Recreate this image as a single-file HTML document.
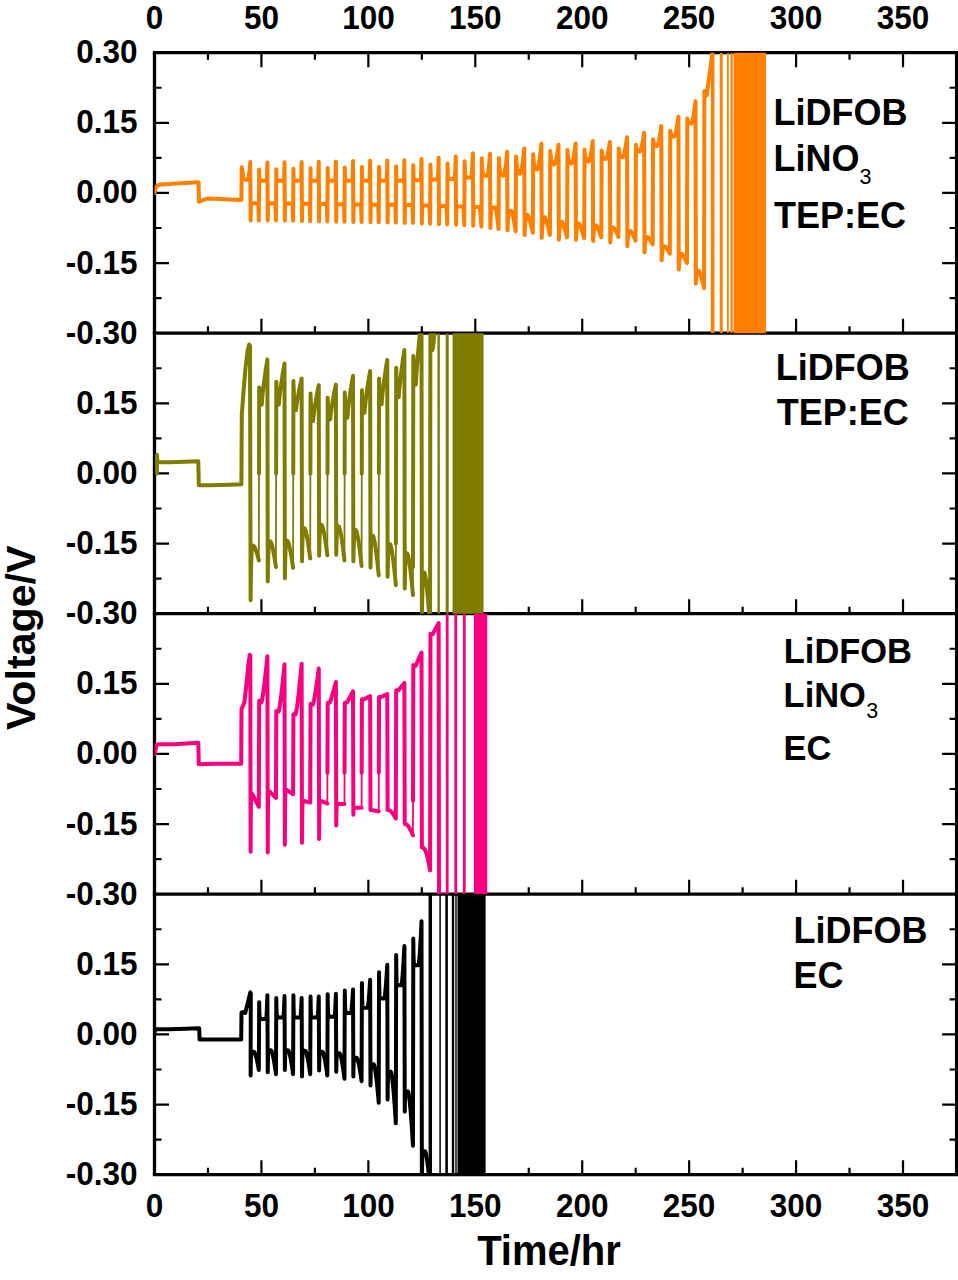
<!DOCTYPE html>
<html><head><meta charset="utf-8"><style>html,body{margin:0;padding:0;background:#fff;}svg{display:block;}</style></head>
<body><svg width="958" height="1280" viewBox="0 0 958 1280">
<rect width="958" height="1280" fill="#fff"/>
<path d="M154.5 52.7V1174.7M956.6 52.7V1174.7" stroke="#000" stroke-width="3.3" fill="none"/><path d="M152.85 52.7H958.25" stroke="#000" stroke-width="3.3" fill="none"/><path d="M152.85 333.2H958.25" stroke="#000" stroke-width="3.3" fill="none"/><path d="M152.85 613.7H958.25" stroke="#000" stroke-width="3.3" fill="none"/><path d="M152.85 894.2H958.25" stroke="#000" stroke-width="3.3" fill="none"/><path d="M152.85 1174.7H958.25" stroke="#000" stroke-width="3.3" fill="none"/><path d="M207.97 52.7v7.0M207.97 333.2v-7.0M207.97 613.7v-7.0M207.97 894.2v-7.0M207.97 1174.7v-7.0M261.43 52.7v14.5M261.43 333.2v-14.5M261.43 613.7v-14.5M261.43 894.2v-14.5M261.43 1174.7v-14.5M314.89 52.7v7.0M314.89 333.2v-7.0M314.89 613.7v-7.0M314.89 894.2v-7.0M314.89 1174.7v-7.0M368.36 52.7v14.5M368.36 333.2v-14.5M368.36 613.7v-14.5M368.36 894.2v-14.5M368.36 1174.7v-14.5M421.82 52.7v7.0M421.82 333.2v-7.0M421.82 613.7v-7.0M421.82 894.2v-7.0M421.82 1174.7v-7.0M475.29 52.7v14.5M475.29 333.2v-14.5M475.29 613.7v-14.5M475.29 894.2v-14.5M475.29 1174.7v-14.5M528.75 52.7v7.0M528.75 333.2v-7.0M528.75 613.7v-7.0M528.75 894.2v-7.0M528.75 1174.7v-7.0M582.22 52.7v14.5M582.22 333.2v-14.5M582.22 613.7v-14.5M582.22 894.2v-14.5M582.22 1174.7v-14.5M635.68 52.7v7.0M635.68 333.2v-7.0M635.68 613.7v-7.0M635.68 894.2v-7.0M635.68 1174.7v-7.0M689.15 52.7v14.5M689.15 333.2v-14.5M689.15 613.7v-14.5M689.15 894.2v-14.5M689.15 1174.7v-14.5M742.62 52.7v7.0M742.62 333.2v-7.0M742.62 613.7v-7.0M742.62 894.2v-7.0M742.62 1174.7v-7.0M796.08 52.7v14.5M796.08 333.2v-14.5M796.08 613.7v-14.5M796.08 894.2v-14.5M796.08 1174.7v-14.5M849.54 52.7v7.0M849.54 333.2v-7.0M849.54 613.7v-7.0M849.54 894.2v-7.0M849.54 1174.7v-7.0M903.01 52.7v14.5M903.01 333.2v-14.5M903.01 613.7v-14.5M903.01 894.2v-14.5M903.01 1174.7v-14.5M154.5 87.76h7.0M956.6 87.76h-7.0M154.5 122.83h14.5M956.6 122.83h-14.5M154.5 157.89h7.0M956.6 157.89h-7.0M154.5 192.95h14.5M956.6 192.95h-14.5M154.5 228.01h7.0M956.6 228.01h-7.0M154.5 263.07h14.5M956.6 263.07h-14.5M154.5 298.14h7.0M956.6 298.14h-7.0M154.5 368.26h7.0M956.6 368.26h-7.0M154.5 403.32h14.5M956.6 403.32h-14.5M154.5 438.39h7.0M956.6 438.39h-7.0M154.5 473.45h14.5M956.6 473.45h-14.5M154.5 508.51h7.0M956.6 508.51h-7.0M154.5 543.58h14.5M956.6 543.58h-14.5M154.5 578.64h7.0M956.6 578.64h-7.0M154.5 648.76h7.0M956.6 648.76h-7.0M154.5 683.83h14.5M956.6 683.83h-14.5M154.5 718.89h7.0M956.6 718.89h-7.0M154.5 753.95h14.5M956.6 753.95h-14.5M154.5 789.01h7.0M956.6 789.01h-7.0M154.5 824.08h14.5M956.6 824.08h-14.5M154.5 859.14h7.0M956.6 859.14h-7.0M154.5 929.26h7.0M956.6 929.26h-7.0M154.5 964.33h14.5M956.6 964.33h-14.5M154.5 999.39h7.0M956.6 999.39h-7.0M154.5 1034.45h14.5M956.6 1034.45h-14.5M154.5 1069.51h7.0M956.6 1069.51h-7.0M154.5 1104.58h14.5M956.6 1104.58h-14.5M154.5 1139.64h7.0M956.6 1139.64h-7.0" stroke="#000" stroke-width="2.2" fill="none"/>
<defs><clipPath id="cp0"><rect x="154.5" y="52.7" width="802.1" height="280.5"/></clipPath><clipPath id="cp1"><rect x="154.5" y="333.2" width="802.1" height="280.5"/></clipPath><clipPath id="cp2"><rect x="154.5" y="613.7" width="802.1" height="280.5"/></clipPath><clipPath id="cp3"><rect x="154.5" y="894.2" width="802.1" height="280.5"/></clipPath></defs>
<g clip-path="url(#cp0)"><path d="M154.50 192.95L155.50 188.27L157.50 185.47L160.00 184.53L170.00 184.07L180.00 183.13L190.00 182.66L197.50 182.20L198.60 182.66L199.00 201.83L201.00 200.90L207.40 198.56L220.00 199.03L241.40 199.96L241.70 167.24L242.30 169.57L243.50 179.39L246.20 179.86L248.20 178.92L249.46 171.91L250.26 162.09L250.61 220.53L250.74 211.41L250.86 207.09L250.91 206.21L250.99 205.06L251.11 204.10L251.20 203.75L251.24 203.64L251.36 203.43L251.49 203.33L251.49 203.32L251.79 203.25L252.08 203.24L252.37 203.24L252.67 203.24L252.96 203.24L253.25 203.24L253.55 203.24L253.84 203.24L254.13 203.24L254.43 203.24L254.72 203.24L255.01 203.24L255.31 203.24L255.60 203.24L255.89 203.24L256.19 203.24L256.48 203.23L256.77 203.23L257.07 203.23L257.36 203.23L257.65 203.23L257.95 203.23L258.12 203.23L258.20 203.88L258.24 204.36L258.28 205.05L258.36 206.56L258.44 208.36L258.51 210.40L258.53 210.90L258.59 212.65L258.67 215.10L258.75 217.73L258.82 220.53L259.18 169.57L259.30 175.50L259.43 178.29L259.47 178.86L259.55 179.61L259.68 180.24L259.76 180.46L259.80 180.53L259.93 180.67L260.05 180.74L260.05 180.74L260.35 180.79L260.64 180.79L260.93 180.79L261.23 180.79L261.52 180.79L261.81 180.79L262.11 180.79L262.40 180.79L262.69 180.79L262.99 180.79L263.28 180.79L263.57 180.79L263.87 180.79L264.16 180.79L264.45 180.79L264.75 180.79L265.04 180.79L265.33 180.79L265.63 180.79L265.92 180.79L266.21 180.79L266.51 180.79L266.69 180.79L266.77 180.12L266.80 179.61L266.84 178.89L266.92 177.29L267.00 175.39L267.08 173.25L267.09 172.72L267.15 170.87L267.23 168.29L267.31 165.52L267.39 162.56L267.74 220.53L267.86 211.41L267.99 207.09L268.03 206.21L268.11 205.06L268.24 204.10L268.32 203.75L268.36 203.64L268.49 203.43L268.61 203.33L268.62 203.32L268.91 203.25L269.20 203.24L269.50 203.24L269.79 203.24L270.08 203.24L270.38 203.24L270.67 203.24L270.96 203.24L271.26 203.24L271.55 203.24L271.84 203.24L272.14 203.24L272.43 203.24L272.72 203.24L273.02 203.24L273.31 203.24L273.60 203.23L273.90 203.23L274.19 203.23L274.48 203.23L274.78 203.23L275.07 203.23L275.25 203.23L275.33 203.88L275.36 204.36L275.41 205.05L275.48 206.56L275.56 208.36L275.64 210.40L275.66 210.90L275.72 212.65L275.79 215.10L275.87 217.73L275.95 220.53L276.30 169.17L276.43 175.30L276.55 178.20L276.59 178.79L276.68 179.57L276.80 180.22L276.89 180.45L276.93 180.52L277.05 180.67L277.18 180.73L277.18 180.74L277.47 180.78L277.77 180.79L278.06 180.79L278.35 180.79L278.65 180.79L278.94 180.79L279.23 180.79L279.53 180.79L279.82 180.79L280.11 180.79L280.41 180.79L280.70 180.79L280.99 180.79L281.29 180.79L281.58 180.79L281.87 180.79L282.17 180.79L282.46 180.79L282.75 180.79L283.05 180.79L283.34 180.79L283.63 180.79L283.81 180.79L283.89 180.11L283.93 179.59L283.97 178.85L284.05 177.23L284.12 175.31L284.20 173.12L284.22 172.59L284.28 170.71L284.36 168.09L284.43 165.27L284.51 162.27L284.86 220.82L284.99 211.67L285.11 207.34L285.16 206.46L285.24 205.30L285.36 204.33L285.45 203.98L285.49 203.88L285.61 203.66L285.74 203.56L285.74 203.56L286.04 203.48L286.33 203.47L286.62 203.47L286.92 203.47L287.21 203.47L287.50 203.47L287.80 203.47L288.09 203.47L288.38 203.47L288.68 203.47L288.97 203.47L289.26 203.47L289.56 203.47L289.85 203.47L290.14 203.47L290.44 203.47L290.73 203.47L291.02 203.47L291.32 203.47L291.61 203.47L291.90 203.47L292.20 203.47L292.38 203.47L292.45 204.11L292.49 204.60L292.53 205.29L292.61 206.81L292.69 208.61L292.76 210.66L292.78 211.15L292.84 212.92L292.92 215.37L293.00 218.01L293.07 220.82L293.43 168.76L293.55 175.11L293.68 178.11L293.72 178.72L293.80 179.53L293.93 180.20L294.01 180.44L294.05 180.51L294.18 180.66L294.30 180.73L294.30 180.73L294.60 180.78L294.89 180.79L295.18 180.79L295.48 180.79L295.77 180.79L296.06 180.79L296.36 180.79L296.65 180.79L296.94 180.79L297.24 180.79L297.53 180.79L297.82 180.79L298.12 180.79L298.41 180.79L298.70 180.79L299.00 180.79L299.29 180.79L299.58 180.79L299.88 180.79L300.17 180.79L300.46 180.79L300.76 180.79L300.94 180.79L301.02 180.10L301.05 179.57L301.09 178.82L301.17 177.17L301.25 175.22L301.33 173.00L301.34 172.46L301.40 170.55L301.48 167.89L301.56 165.03L301.64 161.98L301.99 221.12L302.11 211.93L302.24 207.59L302.28 206.70L302.36 205.54L302.49 204.57L302.57 204.22L302.61 204.11L302.74 203.90L302.86 203.79L302.87 203.79L303.16 203.72L303.45 203.71L303.75 203.70L304.04 203.70L304.33 203.70L304.63 203.70L304.92 203.70L305.21 203.70L305.51 203.70L305.80 203.70L306.09 203.70L306.39 203.70L306.68 203.70L306.97 203.70L307.27 203.70L307.56 203.70L307.85 203.70L308.15 203.70L308.44 203.70L308.73 203.70L309.03 203.70L309.32 203.70L309.50 203.70L309.58 204.35L309.61 204.84L309.66 205.53L309.73 207.05L309.81 208.86L309.89 210.91L309.91 211.41L309.97 213.18L310.04 215.65L310.12 218.30L310.20 221.12L310.55 168.35L310.68 174.92L310.80 178.02L310.84 178.65L310.93 179.48L311.05 180.18L311.14 180.43L311.18 180.50L311.30 180.66L311.43 180.73L311.43 180.73L311.72 180.78L312.02 180.79L312.31 180.79L312.60 180.79L312.90 180.79L313.19 180.79L313.48 180.79L313.78 180.79L314.07 180.79L314.36 180.79L314.66 180.79L314.95 180.79L315.24 180.79L315.54 180.79L315.83 180.79L316.12 180.79L316.42 180.79L316.71 180.79L317.00 180.79L317.30 180.79L317.59 180.79L317.88 180.79L318.06 180.79L318.14 180.09L318.18 179.55L318.22 178.79L318.30 177.12L318.37 175.13L318.45 172.88L318.47 172.33L318.53 170.39L318.61 167.69L318.68 164.78L318.76 161.69L319.11 221.41L319.24 212.19L319.36 207.83L319.41 206.94L319.49 205.78L319.61 204.81L319.70 204.45L319.74 204.35L319.86 204.13L319.99 204.03L319.99 204.03L320.29 203.95L320.58 203.94L320.87 203.94L321.17 203.94L321.46 203.94L321.75 203.94L322.05 203.94L322.34 203.94L322.63 203.94L322.93 203.94L323.22 203.94L323.51 203.94L323.81 203.94L324.10 203.94L324.39 203.94L324.69 203.94L324.98 203.94L325.27 203.94L325.57 203.94L325.86 203.94L326.15 203.94L326.45 203.94L326.62 203.94L326.70 204.58L326.74 205.08L326.78 205.77L326.86 207.30L326.94 209.11L327.01 211.17L327.03 211.67L327.09 213.45L327.17 215.92L327.25 218.58L327.32 221.41L327.68 167.94L327.80 174.72L327.93 177.93L327.97 178.58L328.05 179.44L328.18 180.15L328.26 180.41L328.30 180.49L328.43 180.65L328.55 180.73L328.55 180.73L328.85 180.78L329.14 180.79L329.43 180.79L329.73 180.79L330.02 180.79L330.31 180.79L330.61 180.79L330.90 180.79L331.19 180.79L331.49 180.79L331.78 180.79L332.07 180.79L332.37 180.79L332.66 180.79L332.95 180.79L333.25 180.79L333.54 180.79L333.83 180.79L334.13 180.79L334.42 180.79L334.71 180.79L335.01 180.79L335.19 180.79L335.27 180.08L335.30 179.53L335.34 178.76L335.42 177.06L335.50 175.05L335.58 172.76L335.59 172.20L335.65 170.23L335.73 167.49L335.81 164.54L335.89 161.39L336.24 221.70L336.36 212.45L336.49 208.08L336.53 207.19L336.61 206.02L336.74 205.04L336.82 204.69L336.86 204.58L336.99 204.36L337.11 204.26L337.12 204.26L337.41 204.19L337.70 204.17L338.00 204.17L338.29 204.17L338.58 204.17L338.88 204.17L339.17 204.17L339.46 204.17L339.76 204.17L340.05 204.17L340.34 204.17L340.64 204.17L340.93 204.17L341.22 204.17L341.52 204.17L341.81 204.17L342.10 204.17L342.40 204.17L342.69 204.17L342.98 204.17L343.28 204.17L343.57 204.17L343.75 204.17L343.83 204.82L343.86 205.31L343.91 206.01L343.98 207.54L344.06 209.36L344.14 211.43L344.16 211.93L344.22 213.71L344.29 216.20L344.37 218.86L344.45 221.70L344.80 167.53L344.93 174.53L345.05 177.84L345.09 178.51L345.18 179.40L345.30 180.13L345.39 180.40L345.43 180.48L345.55 180.65L345.68 180.73L345.68 180.73L345.97 180.78L346.27 180.79L346.56 180.79L346.85 180.79L347.15 180.79L347.44 180.79L347.73 180.79L348.03 180.79L348.32 180.79L348.61 180.79L348.91 180.79L349.20 180.79L349.49 180.79L349.79 180.79L350.08 180.79L350.37 180.79L350.67 180.79L350.96 180.79L351.25 180.79L351.55 180.79L351.84 180.79L352.13 180.79L352.31 180.79L352.39 180.07L352.43 179.51L352.47 178.73L352.55 177.00L352.62 174.96L352.70 172.64L352.72 172.07L352.78 170.08L352.86 167.29L352.93 164.29L353.01 161.10L353.36 221.99L353.49 212.71L353.61 208.33L353.66 207.43L353.74 206.26L353.86 205.28L353.95 204.92L353.99 204.82L354.11 204.60L354.24 204.50L354.24 204.49L354.54 204.42L354.83 204.41L355.12 204.40L355.42 204.40L355.71 204.40L356.00 204.40L356.30 204.40L356.59 204.40L356.88 204.40L357.18 204.40L357.47 204.40L357.76 204.40L358.06 204.40L358.35 204.40L358.64 204.40L358.94 204.40L359.23 204.40L359.52 204.40L359.82 204.40L360.11 204.40L360.40 204.40L360.70 204.40L360.88 204.40L360.95 205.06L360.99 205.55L361.03 206.25L361.11 207.79L361.19 209.62L361.26 211.69L361.28 212.19L361.34 213.98L361.42 216.47L361.50 219.14L361.57 221.99L361.93 167.12L362.05 174.34L362.18 177.74L362.22 178.44L362.30 179.35L362.43 180.11L362.51 180.39L362.55 180.47L362.68 180.64L362.80 180.72L362.80 180.73L363.10 180.78L363.39 180.79L363.68 180.79L363.98 180.79L364.27 180.79L364.56 180.79L364.86 180.79L365.15 180.79L365.44 180.79L365.74 180.79L366.03 180.79L366.32 180.79L366.62 180.79L366.91 180.79L367.20 180.79L367.50 180.79L367.79 180.79L368.08 180.79L368.38 180.79L368.67 180.79L368.96 180.79L369.26 180.79L369.44 180.79L369.52 180.05L369.55 179.49L369.59 178.70L369.67 176.95L369.75 174.87L369.83 172.52L369.84 171.94L369.90 169.92L369.98 167.09L370.06 164.05L370.14 160.81L370.49 222.29L370.61 212.97L370.74 208.58L370.78 207.67L370.86 206.50L370.99 205.52L371.07 205.16L371.11 205.05L371.24 204.83L371.36 204.73L371.37 204.73L371.66 204.65L371.95 204.64L372.25 204.64L372.54 204.64L372.83 204.64L373.13 204.64L373.42 204.64L373.71 204.64L374.01 204.64L374.30 204.64L374.59 204.64L374.89 204.64L375.18 204.64L375.47 204.64L375.77 204.64L376.06 204.64L376.35 204.64L376.65 204.64L376.94 204.64L377.23 204.64L377.53 204.64L377.82 204.64L378.00 204.64L378.08 205.29L378.11 205.79L378.16 206.49L378.23 208.03L378.31 209.87L378.39 211.95L378.41 212.45L378.47 214.24L378.54 216.74L378.62 219.43L378.70 222.29L379.05 166.71L379.18 174.14L379.30 177.65L379.34 178.37L379.43 179.31L379.55 180.09L379.64 180.38L379.68 180.46L379.80 180.64L379.93 180.72L379.93 180.72L380.22 180.78L380.52 180.79L380.81 180.79L381.10 180.79L381.40 180.79L381.69 180.79L381.98 180.79L382.28 180.79L382.57 180.79L382.86 180.79L383.16 180.79L383.45 180.79L383.74 180.79L384.04 180.79L384.33 180.79L384.62 180.79L384.92 180.79L385.21 180.79L385.50 180.79L385.80 180.79L386.09 180.79L386.38 180.79L386.56 180.79L386.64 180.04L386.68 179.47L386.72 178.67L386.80 176.89L386.87 174.79L386.95 172.40L386.97 171.81L387.03 169.76L387.11 166.89L387.18 163.80L387.26 160.52L387.61 222.58L387.74 213.24L387.86 208.82L387.91 207.92L387.99 206.74L388.11 205.75L388.20 205.40L388.24 205.29L388.36 205.07L388.49 204.96L388.49 204.96L388.79 204.89L389.08 204.87L389.37 204.87L389.67 204.87L389.96 204.87L390.25 204.87L390.55 204.87L390.84 204.87L391.13 204.87L391.43 204.87L391.72 204.87L392.01 204.87L392.31 204.87L392.60 204.87L392.89 204.87L393.19 204.87L393.48 204.87L393.77 204.87L394.07 204.87L394.36 204.87L394.65 204.87L394.95 204.87L395.12 204.87L395.20 205.53L395.24 206.03L395.28 206.73L395.36 208.28L395.44 210.12L395.51 212.20L395.53 212.71L395.59 214.51L395.67 217.02L395.75 219.71L395.82 222.58L396.18 166.30L396.30 173.95L396.43 177.56L396.47 178.30L396.55 179.27L396.68 180.07L396.76 180.37L396.80 180.45L396.93 180.63L397.05 180.72L397.05 180.72L397.35 180.78L397.64 180.79L397.93 180.79L398.23 180.79L398.52 180.79L398.81 180.79L399.11 180.79L399.40 180.79L399.69 180.79L399.99 180.79L400.28 180.79L400.57 180.79L400.87 180.79L401.16 180.79L401.45 180.79L401.75 180.79L402.04 180.79L402.33 180.79L402.63 180.79L402.92 180.79L403.21 180.79L403.51 180.79L403.69 180.79L403.77 180.03L403.80 179.45L403.84 178.64L403.92 176.84L404.00 174.70L404.08 172.28L404.09 171.69L404.15 169.60L404.23 166.69L404.31 163.56L404.39 160.23L404.74 222.87L404.86 213.50L404.99 209.07L405.03 208.16L405.11 206.98L405.24 205.99L405.32 205.63L405.36 205.52L405.49 205.30L405.61 205.20L405.62 205.20L405.91 205.12L406.20 205.11L406.50 205.11L406.79 205.11L407.08 205.11L407.38 205.11L407.67 205.11L407.96 205.11L408.26 205.11L408.55 205.11L408.84 205.11L409.14 205.11L409.43 205.11L409.72 205.11L410.02 205.11L410.31 205.11L410.60 205.10L410.90 205.10L411.19 205.10L411.48 205.10L411.78 205.10L412.07 205.10L412.25 205.10L412.33 205.76L412.36 206.26L412.41 206.97L412.48 208.52L412.56 210.37L412.64 212.46L412.66 212.97L412.72 214.78L412.79 217.29L412.87 219.99L412.95 222.87L413.30 165.37L413.45 173.18L413.59 176.87L413.59 176.90L413.74 178.61L413.88 179.43L413.89 179.45L414.03 179.82L414.18 180.01L414.18 180.01L414.32 180.09L414.47 180.14L414.77 180.16L415.06 180.17L415.35 180.17L415.65 180.17L415.94 180.17L416.23 180.17L416.53 180.17L416.82 180.17L417.11 180.17L417.41 180.17L417.70 180.17L417.99 180.17L418.29 180.17L418.58 180.17L418.87 180.17L419.17 180.17L419.46 180.17L419.75 180.17L420.05 180.17L420.34 180.17L420.63 180.17L420.68 180.17L420.77 179.40L420.87 177.98L420.93 176.85L420.96 176.14L421.05 173.94L421.14 171.45L421.22 169.20L421.24 168.68L421.33 165.67L421.42 162.43L421.51 158.98L421.86 223.49L422.00 214.04L422.14 209.57L422.16 209.33L422.29 207.46L422.43 206.46L422.45 206.36L422.57 205.99L422.71 205.77L422.74 205.74L422.85 205.67L423.04 205.61L423.33 205.58L423.62 205.57L423.92 205.57L424.21 205.57L424.50 205.57L424.80 205.57L425.09 205.57L425.38 205.57L425.68 205.57L425.97 205.57L426.26 205.57L426.56 205.57L426.85 205.57L427.14 205.57L427.44 205.57L427.73 205.57L428.02 205.57L428.32 205.57L428.61 205.57L428.90 205.57L429.20 205.57L429.21 205.57L429.31 206.25L429.41 207.49L429.49 208.84L429.50 209.08L429.60 210.96L429.69 213.09L429.78 215.27L429.79 215.44L429.88 217.99L429.98 220.73L430.07 223.65L430.43 164.43L430.59 172.41L430.72 175.51L430.76 176.18L430.93 177.96L431.01 178.47L431.09 178.80L431.26 179.19L431.30 179.26L431.43 179.38L431.59 179.47L431.60 179.47L431.89 179.53L432.18 179.54L432.48 179.55L432.77 179.55L433.06 179.55L433.36 179.55L433.65 179.55L433.94 179.55L434.24 179.55L434.53 179.55L434.82 179.55L435.12 179.55L435.41 179.55L435.70 179.55L436.00 179.55L436.29 179.55L436.58 179.55L436.88 179.55L437.17 179.55L437.46 179.55L437.68 179.55L437.76 179.05L437.78 178.78L437.89 177.33L438.00 175.44L438.05 174.36L438.10 173.19L438.21 170.62L438.32 167.77L438.34 167.01L438.42 164.66L438.53 161.31L438.64 157.73L438.99 224.12L439.14 214.58L439.28 210.48L439.30 210.07L439.46 207.95L439.57 207.13L439.61 206.94L439.77 206.47L439.87 206.31L439.93 206.24L440.08 206.13L440.16 206.11L440.45 206.06L440.75 206.04L441.04 206.04L441.33 206.04L441.63 206.04L441.92 206.04L442.21 206.04L442.51 206.04L442.80 206.04L443.09 206.04L443.39 206.04L443.68 206.04L443.97 206.04L444.27 206.04L444.56 206.04L444.85 206.04L445.15 206.04L445.44 206.04L445.73 206.04L446.03 206.04L446.18 206.04L446.29 206.74L446.32 207.00L446.41 208.01L446.52 209.63L446.61 211.19L446.63 211.55L446.75 213.71L446.86 216.10L446.91 217.15L446.97 218.70L447.09 221.47L447.20 224.43L447.55 163.50L447.74 171.64L447.84 174.15L447.93 175.48L448.11 177.30L448.14 177.45L448.30 178.16L448.43 178.47L448.49 178.56L448.68 178.75L448.72 178.78L448.86 178.84L449.02 178.88L449.31 178.91L449.60 178.92L449.90 178.92L450.19 178.92L450.48 178.92L450.78 178.92L451.07 178.92L451.36 178.92L451.66 178.92L451.95 178.92L452.24 178.92L452.54 178.92L452.83 178.92L453.12 178.92L453.42 178.92L453.71 178.92L454.00 178.92L454.30 178.92L454.59 178.92L454.67 178.92L454.79 178.15L454.88 177.12L454.91 176.68L455.04 174.75L455.16 172.44L455.18 172.04L455.28 169.80L455.40 166.86L455.47 165.03L455.52 163.65L455.64 160.19L455.76 156.49L456.11 224.74L456.29 215.12L456.41 211.60L456.46 210.58L456.63 208.43L456.70 207.93L456.80 207.42L456.98 206.94L456.99 206.91L457.15 206.71L457.29 206.62L457.32 206.60L457.58 206.54L457.87 206.52L458.17 206.51L458.46 206.51L458.75 206.51L459.05 206.51L459.34 206.51L459.63 206.51L459.93 206.51L460.22 206.51L460.51 206.51L460.81 206.51L461.10 206.51L461.39 206.51L461.69 206.51L461.98 206.51L462.27 206.51L462.57 206.51L462.86 206.51L463.14 206.51L463.15 206.52L463.28 207.23L463.41 208.53L463.45 208.97L463.54 210.19L463.67 212.14L463.74 213.27L463.80 214.34L463.93 216.77L464.03 218.76L464.06 219.40L464.19 222.22L464.32 225.21L464.68 161.16L464.96 169.79L464.97 170.04L465.24 173.87L465.26 174.10L465.52 175.80L465.55 175.96L465.80 176.71L465.85 176.81L466.08 177.14L466.14 177.19L466.36 177.34L466.43 177.37L466.64 177.44L466.73 177.45L467.02 177.49L467.31 177.51L467.61 177.52L467.90 177.52L468.19 177.52L468.49 177.52L468.78 177.52L469.07 177.52L469.37 177.52L469.66 177.52L469.95 177.52L470.25 177.52L470.54 177.52L470.83 177.52L471.13 177.52L471.21 177.52L471.40 176.76L471.42 176.61L471.58 175.25L471.71 173.88L471.77 173.21L471.96 170.74L472.01 170.00L472.14 167.89L472.30 165.19L472.33 164.69L472.52 161.16L472.59 159.57L472.70 157.33L472.89 153.21L473.24 225.67L473.48 215.81L473.53 214.56L473.73 211.15L473.82 210.05L473.97 208.95L474.12 208.22L474.21 207.91L474.41 207.48L474.46 207.41L474.70 207.18L474.70 207.18L474.94 207.07L475.00 207.06L475.29 207.01L475.58 206.99L475.88 206.98L476.17 206.98L476.46 206.98L476.76 206.98L477.05 206.98L477.34 206.98L477.64 206.98L477.93 206.98L478.22 206.98L478.52 206.98L478.81 206.98L479.10 206.98L479.40 206.98L479.55 206.98L479.69 207.42L479.76 207.79L479.97 209.19L479.98 209.28L480.18 210.97L480.28 211.85L480.39 213.03L480.57 214.94L480.61 215.35L480.82 217.88L480.86 218.47L481.03 220.61L481.16 222.37L481.24 223.53L481.45 226.61L481.80 158.35L482.09 165.19L482.24 167.48L482.39 169.32L482.68 171.79L482.68 171.83L482.97 173.34L483.11 173.83L483.27 174.25L483.55 174.79L483.56 174.81L483.85 175.14L483.99 175.25L484.15 175.34L484.43 175.46L484.44 175.47L484.73 175.54L484.86 175.56L485.03 175.58L485.32 175.61L485.61 175.63L485.91 175.64L486.20 175.64L486.49 175.65L486.79 175.65L487.08 175.65L487.36 175.65L487.37 175.65L487.66 175.07L487.67 175.04L487.95 173.82L487.96 173.77L488.25 172.07L488.25 172.02L488.54 169.89L488.55 169.84L488.83 167.32L488.84 167.28L489.13 164.40L489.13 164.36L489.42 161.14L489.43 161.11L489.72 157.56L489.72 157.55L490.01 153.68L490.36 228.01L490.66 218.65L490.73 217.16L490.95 213.55L491.09 212.03L491.24 210.77L491.45 209.61L491.54 209.26L491.81 208.47L491.83 208.43L492.12 207.98L492.18 207.93L492.42 207.74L492.54 207.67L492.71 207.60L492.90 207.55L493.00 207.53L493.30 207.49L493.59 207.47L493.88 207.46L494.18 207.45L494.47 207.45L494.76 207.44L495.06 207.44L495.35 207.44L495.47 207.44L495.64 207.80L495.82 208.43L495.94 208.93L496.16 210.06L496.23 210.41L496.51 212.06L496.52 212.15L496.82 214.09L496.85 214.35L497.11 216.21L497.20 216.89L497.40 218.49L497.54 219.63L497.70 220.92L497.89 222.57L497.99 223.47L498.23 225.68L498.28 226.15L498.57 228.95L498.93 157.89L499.22 163.39L499.51 167.18L499.52 167.26L499.80 169.81L500.10 171.62L500.11 171.69L500.39 172.87L500.68 173.73L500.71 173.78L500.98 174.32L501.27 174.74L501.30 174.77L501.56 175.02L501.86 175.22L501.89 175.23L502.15 175.35L502.44 175.44L502.49 175.46L502.74 175.51L503.03 175.55L503.08 175.56L503.32 175.58L503.51 175.60L503.62 175.55L503.91 175.09L503.92 175.08L504.20 174.26L504.32 173.85L504.50 173.12L504.72 172.06L504.79 171.69L505.08 170.00L505.12 169.76L505.38 168.07L505.53 167.00L505.67 165.90L505.93 163.80L505.96 163.50L506.26 160.89L506.33 160.20L506.55 158.07L506.73 156.19L506.84 155.04L507.14 151.81L507.49 230.35L507.78 223.15L507.97 219.99L508.07 218.59L508.37 215.70L508.45 215.10L508.66 213.87L508.93 212.78L508.95 212.71L509.25 211.98L509.41 211.69L509.54 211.52L509.83 211.22L509.89 211.18L510.13 211.04L510.38 210.93L510.42 210.92L510.71 210.84L510.86 210.82L511.01 210.80L511.30 210.77L511.40 210.76L511.59 211.06L511.88 211.80L511.89 211.82L512.18 212.78L512.36 213.43L512.47 213.88L512.77 215.10L512.83 215.39L513.06 216.41L513.31 217.60L513.35 217.81L513.65 219.28L513.79 220.02L513.94 220.82L514.23 222.43L514.27 222.61L514.53 224.09L514.74 225.37L514.82 225.82L515.11 227.59L515.22 228.26L515.41 229.41L515.70 231.29L516.05 156.48L516.34 161.00L516.64 164.37L516.80 165.86L516.93 166.88L517.22 168.75L517.52 170.15L517.55 170.29L517.81 171.19L518.10 171.97L518.30 172.38L518.40 172.55L518.69 172.98L518.98 173.30L519.05 173.37L519.28 173.54L519.57 173.72L519.66 173.77L519.80 173.79L519.86 173.77L520.16 173.49L520.17 173.47L520.45 172.96L520.55 172.72L520.68 172.36L520.74 172.19L521.04 171.21L521.20 170.59L521.30 170.15L521.33 170.02L521.62 168.64L521.71 168.21L521.92 167.08L522.21 165.34L522.22 165.29L522.50 163.43L522.73 161.83L522.80 161.35L523.09 159.10L523.24 157.88L523.38 156.69L523.68 154.13L523.75 153.44L523.97 151.41L524.26 148.53L524.61 235.02L524.91 228.57L525.20 224.09L525.21 223.92L525.49 220.99L525.79 218.84L525.81 218.68L526.08 217.35L526.37 216.32L526.41 216.20L526.67 215.60L526.96 215.11L527.01 215.03L527.25 214.76L527.33 214.70L527.55 214.81L527.61 214.89L527.84 215.22L527.94 215.39L528.13 215.79L528.21 215.97L528.43 216.48L528.55 216.79L528.72 217.25L528.81 217.51L529.01 218.10L529.16 218.54L529.31 219.00L529.60 219.96L529.77 220.54L529.89 220.96L530.19 222.00L530.38 222.71L530.48 223.08L530.77 224.18L530.99 225.03L531.07 225.32L531.36 226.49L531.60 227.48L531.65 227.68L531.95 228.90L532.21 230.03L532.24 230.14L532.53 231.40L532.83 232.69L533.18 154.15L533.47 158.19L533.76 161.20L533.93 162.53L534.05 163.45L534.35 165.13L534.64 166.38L534.68 166.50L534.93 167.31L535.23 168.00L535.43 168.37L535.52 168.52L535.81 168.91L536.11 169.20L536.18 169.25L536.40 169.41L536.69 169.57L536.79 169.61L536.93 169.62L536.99 169.60L537.28 169.31L537.30 169.28L537.57 168.76L537.68 168.51L537.81 168.14L537.87 167.97L538.16 166.96L538.32 166.33L538.43 165.88L538.45 165.75L538.75 164.34L538.83 163.91L539.04 162.75L539.33 160.98L539.34 160.92L539.63 159.03L539.85 157.40L539.92 156.91L540.21 154.62L540.37 153.38L540.51 152.17L540.80 149.55L540.88 148.86L541.09 146.78L541.39 143.86L541.74 237.83L542.03 231.23L542.32 226.65L542.34 226.48L542.62 223.48L542.91 221.29L542.94 221.12L543.20 219.76L543.50 218.71L543.54 218.59L543.79 217.98L544.08 217.47L544.14 217.40L544.38 217.12L544.45 217.05L544.67 217.16L544.74 217.23L544.96 217.56L545.06 217.74L545.26 218.13L545.34 218.31L545.55 218.82L545.67 219.13L545.84 219.59L545.94 219.85L546.14 220.44L546.28 220.88L546.43 221.34L546.72 222.30L546.89 222.88L547.02 223.30L547.31 224.34L547.51 225.05L547.60 225.41L547.90 226.52L548.12 227.37L548.19 227.66L548.48 228.83L548.73 229.82L548.78 230.02L549.07 231.24L549.34 232.37L549.36 232.48L549.66 233.74L549.95 235.03L550.30 150.88L550.59 154.44L550.89 157.10L551.05 158.28L551.18 159.08L551.47 160.56L551.77 161.66L551.80 161.77L552.06 162.49L552.35 163.10L552.55 163.42L552.65 163.56L552.94 163.90L553.23 164.15L553.30 164.20L553.53 164.34L553.82 164.48L553.91 164.52L554.05 164.53L554.11 164.52L554.41 164.31L554.42 164.29L554.70 163.89L554.80 163.70L554.93 163.42L554.99 163.29L555.29 162.52L555.45 162.04L555.55 161.69L555.58 161.59L555.87 160.52L555.96 160.18L556.17 159.30L556.46 157.93L556.47 157.89L556.75 156.44L556.98 155.19L557.05 154.81L557.34 153.06L557.49 152.10L557.63 151.17L557.93 149.17L558.00 148.63L558.22 147.04L558.51 144.79L558.86 239.70L559.16 233.96L559.45 229.98L559.46 229.83L559.74 227.23L560.04 225.31L560.06 225.17L560.33 223.99L560.62 223.07L560.66 222.97L560.92 222.44L561.21 222.00L561.26 221.93L561.50 221.69L561.58 221.63L561.80 221.73L561.86 221.79L562.09 222.08L562.19 222.23L562.38 222.58L562.46 222.74L562.68 223.18L562.80 223.45L562.97 223.86L563.06 224.09L563.26 224.60L563.41 224.99L563.56 225.39L563.85 226.23L564.02 226.73L564.14 227.10L564.44 228.01L564.63 228.63L564.73 228.95L565.02 229.92L565.24 230.67L565.32 230.92L565.61 231.94L565.85 232.81L565.90 232.98L566.20 234.05L566.46 235.04L566.49 235.13L566.78 236.24L567.08 237.36L567.43 149.94L567.72 153.51L568.01 156.16L568.18 157.34L568.30 158.15L568.60 159.63L568.89 160.73L568.93 160.84L569.18 161.55L569.48 162.17L569.68 162.49L569.77 162.62L570.06 162.96L570.36 163.22L570.43 163.27L570.65 163.41L570.94 163.55L571.04 163.59L571.18 163.60L571.24 163.58L571.53 163.36L571.55 163.34L571.82 162.94L571.93 162.75L572.06 162.46L572.12 162.32L572.41 161.53L572.57 161.04L572.68 160.69L572.70 160.58L573.00 159.48L573.08 159.14L573.29 158.23L573.58 156.84L573.59 156.79L573.88 155.31L574.10 154.03L574.17 153.64L574.46 151.84L574.62 150.87L574.76 149.92L575.05 147.87L575.13 147.32L575.34 145.69L575.64 143.39L575.99 239.70L576.28 234.53L576.57 230.95L576.59 230.82L576.87 228.47L577.16 226.75L577.19 226.63L577.45 225.56L577.75 224.74L577.79 224.64L578.04 224.16L578.33 223.77L578.39 223.71L578.63 223.49L578.70 223.44L578.92 223.54L578.99 223.60L579.21 223.88L579.31 224.02L579.51 224.35L579.59 224.50L579.80 224.92L579.92 225.18L580.09 225.56L580.19 225.78L580.39 226.26L580.53 226.63L580.68 227.01L580.97 227.80L581.14 228.27L581.27 228.62L581.56 229.48L581.76 230.07L581.85 230.37L582.15 231.28L582.37 231.98L582.44 232.22L582.73 233.18L582.98 234.00L583.03 234.17L583.32 235.17L583.59 236.11L583.61 236.19L583.91 237.24L584.20 238.30L584.55 149.47L584.84 152.68L585.14 155.07L585.30 156.13L585.43 156.86L585.72 158.19L586.02 159.18L586.05 159.28L586.31 159.92L586.60 160.48L586.80 160.76L586.90 160.89L587.19 161.19L587.48 161.42L587.55 161.47L587.78 161.59L588.07 161.72L588.16 161.75L588.30 161.76L588.36 161.74L588.66 161.51L588.67 161.49L588.95 161.06L589.05 160.87L589.18 160.57L589.24 160.43L589.54 159.62L589.70 159.11L589.80 158.75L589.83 158.65L590.12 157.52L590.21 157.16L590.42 156.24L590.71 154.81L590.72 154.77L591.00 153.24L591.23 151.94L591.30 151.54L591.59 149.70L591.74 148.70L591.88 147.73L592.18 145.63L592.25 145.07L592.47 143.41L592.76 141.05L593.11 241.10L593.41 236.08L593.70 232.60L593.71 232.47L593.99 230.19L594.29 228.52L594.31 228.39L594.58 227.36L594.87 226.55L594.91 226.46L595.17 226.00L595.46 225.61L595.51 225.55L595.75 225.34L595.83 225.29L596.05 225.35L596.11 225.40L596.34 225.61L596.44 225.72L596.63 225.98L596.71 226.10L596.93 226.44L597.05 226.65L597.22 226.96L597.31 227.13L597.51 227.52L597.66 227.82L597.81 228.13L598.10 228.78L598.27 229.16L598.39 229.45L598.69 230.15L598.88 230.63L598.98 230.88L599.27 231.62L599.49 232.20L599.57 232.39L599.86 233.18L600.10 233.85L600.15 233.98L600.45 234.80L600.71 235.57L600.74 235.64L601.03 236.50L601.33 237.36L601.68 150.41L601.97 152.67L602.26 154.35L602.43 155.09L602.55 155.61L602.85 156.54L603.14 157.24L603.18 157.31L603.43 157.76L603.73 158.15L603.93 158.35L604.02 158.44L604.31 158.66L604.61 158.82L604.68 158.85L604.90 158.94L605.19 159.03L605.29 159.05L605.43 159.05L605.49 159.03L605.78 158.83L605.80 158.81L606.07 158.46L606.18 158.30L606.31 158.05L606.37 157.93L606.66 157.27L606.82 156.84L606.93 156.55L606.95 156.46L607.25 155.53L607.33 155.24L607.54 154.48L607.83 153.30L607.84 153.27L608.13 152.01L608.35 150.94L608.42 150.61L608.71 149.10L608.87 148.28L609.01 147.48L609.30 145.75L609.38 145.29L609.59 143.92L609.89 141.99L610.24 242.50L610.53 237.77L610.82 234.49L610.84 234.36L611.12 232.21L611.41 230.64L611.44 230.52L611.70 229.54L612.00 228.79L612.04 228.70L612.29 228.26L612.58 227.90L612.64 227.85L612.88 227.65L612.95 227.60L613.17 227.62L613.24 227.65L613.46 227.80L613.56 227.88L613.76 228.08L613.84 228.17L614.05 228.42L614.17 228.58L614.34 228.82L614.44 228.95L614.64 229.25L614.78 229.48L614.93 229.72L615.22 230.22L615.39 230.52L615.52 230.74L615.81 231.29L616.01 231.66L616.10 231.85L616.40 232.43L616.62 232.88L616.69 233.03L616.98 233.64L617.23 234.16L617.28 234.27L617.57 234.91L617.84 235.50L617.86 235.56L618.16 236.22L618.45 236.90L618.80 148.54L619.09 150.80L619.39 152.48L619.55 153.22L619.68 153.74L619.97 154.67L620.27 155.37L620.30 155.44L620.56 155.89L620.85 156.28L621.05 156.48L621.15 156.57L621.44 156.79L621.73 156.95L621.80 156.98L622.03 157.07L622.32 157.16L622.41 157.18L622.55 157.17L622.61 157.15L622.91 156.91L622.92 156.89L623.20 156.47L623.30 156.28L623.43 155.99L623.49 155.86L623.79 155.08L623.95 154.59L624.05 154.24L624.08 154.14L624.37 153.06L624.46 152.72L624.67 151.83L624.96 150.47L624.97 150.42L625.25 148.97L625.48 147.72L625.55 147.34L625.84 145.58L625.99 144.63L626.13 143.70L626.43 141.69L626.50 141.15L626.72 139.56L627.01 137.32L627.36 246.25L627.66 241.37L627.95 237.99L627.96 237.86L628.24 235.64L628.54 234.02L628.56 233.90L628.83 232.89L629.12 232.11L629.16 232.03L629.42 231.57L629.71 231.20L629.76 231.14L630.00 230.94L630.08 230.89L630.30 230.91L630.36 230.95L630.59 231.10L630.69 231.19L630.88 231.39L630.96 231.49L631.18 231.76L631.30 231.92L631.47 232.17L631.56 232.31L631.76 232.63L631.91 232.87L632.06 233.12L632.35 233.64L632.52 233.96L632.64 234.19L632.94 234.76L633.13 235.15L633.23 235.35L633.52 235.96L633.74 236.43L633.82 236.59L634.11 237.23L634.35 237.77L634.40 237.88L634.70 238.55L634.96 239.18L634.99 239.23L635.28 239.93L635.58 240.64L635.93 144.80L636.22 146.58L636.51 147.91L636.68 148.50L636.80 148.90L637.10 149.64L637.39 150.19L637.43 150.25L637.68 150.60L637.98 150.91L638.18 151.07L638.27 151.14L638.56 151.31L638.86 151.44L638.93 151.46L639.15 151.53L639.44 151.60L639.54 151.62L639.68 151.61L639.74 151.59L640.03 151.35L640.05 151.33L640.32 150.93L640.43 150.74L640.56 150.46L640.62 150.33L640.91 149.59L641.07 149.12L641.18 148.79L641.20 148.69L641.50 147.66L641.58 147.33L641.79 146.48L642.08 145.18L642.09 145.14L642.38 143.75L642.60 142.56L642.67 142.20L642.96 140.52L643.12 139.61L643.26 138.73L643.55 136.81L643.63 136.30L643.84 134.78L644.14 132.64L644.49 252.32L644.78 247.44L645.07 244.06L645.09 243.94L645.37 241.72L645.66 240.09L645.69 239.97L645.95 238.97L646.25 238.19L646.29 238.10L646.54 237.65L646.83 237.27L646.89 237.22L647.13 237.01L647.20 236.96L647.42 236.96L647.49 236.97L647.71 237.07L647.81 237.13L648.01 237.28L648.09 237.35L648.30 237.54L648.42 237.67L648.59 237.86L648.69 237.96L648.89 238.20L649.03 238.39L649.18 238.58L649.47 238.98L649.64 239.22L649.77 239.40L650.06 239.84L650.26 240.14L650.35 240.29L650.65 240.76L650.87 241.12L650.94 241.25L651.23 241.74L651.48 242.16L651.53 242.25L651.82 242.77L652.09 243.25L652.11 243.29L652.41 243.83L652.70 244.38L653.05 139.19L653.34 140.97L653.64 142.30L653.80 142.89L653.93 143.29L654.22 144.03L654.52 144.58L654.55 144.64L654.81 144.99L655.10 145.30L655.30 145.46L655.40 145.53L655.69 145.70L655.98 145.83L656.05 145.85L656.28 145.92L656.57 145.99L656.66 146.01L656.80 146.00L656.86 145.97L657.16 145.72L657.17 145.70L657.45 145.28L657.55 145.08L657.68 144.79L657.74 144.65L658.04 143.87L658.20 143.38L658.30 143.03L658.33 142.93L658.62 141.84L658.71 141.51L658.92 140.62L659.21 139.25L659.22 139.21L659.50 137.75L659.73 136.50L659.80 136.12L660.09 134.36L660.24 133.41L660.38 132.48L660.68 130.47L660.75 129.93L660.97 128.34L661.26 126.10L661.61 260.27L661.91 255.82L662.20 252.74L662.21 252.62L662.49 250.60L662.79 249.12L662.81 249.01L663.08 248.09L663.37 247.38L663.41 247.30L663.67 246.89L663.96 246.55L664.01 246.50L664.25 246.31L664.33 246.27L664.55 246.27L664.61 246.29L664.84 246.40L664.94 246.46L665.13 246.61L665.21 246.68L665.43 246.88L665.55 247.01L665.72 247.20L665.81 247.31L666.01 247.55L666.16 247.73L666.31 247.92L666.60 248.33L666.77 248.57L666.89 248.75L667.19 249.19L667.38 249.49L667.48 249.64L667.77 250.11L667.99 250.47L668.07 250.60L668.36 251.09L668.60 251.51L668.65 251.60L668.95 252.11L669.21 252.60L669.24 252.64L669.53 253.18L669.83 253.73L670.18 130.77L670.47 132.32L670.76 133.47L670.93 133.98L671.05 134.33L671.35 134.97L671.64 135.45L671.68 135.49L671.93 135.80L672.23 136.07L672.43 136.21L672.52 136.27L672.81 136.42L673.11 136.53L673.18 136.55L673.40 136.61L673.69 136.67L673.79 136.69L673.93 136.67L673.99 136.64L674.28 136.39L674.30 136.37L674.57 135.94L674.68 135.74L674.81 135.45L674.87 135.31L675.16 134.53L675.32 134.03L675.43 133.69L675.45 133.58L675.75 132.50L675.83 132.16L676.04 131.27L676.33 129.90L676.34 129.86L676.63 128.40L676.85 127.15L676.92 126.77L677.21 125.01L677.37 124.06L677.51 123.13L677.80 121.12L677.88 120.59L678.09 118.99L678.39 116.75L678.74 269.62L679.03 264.60L679.32 261.12L679.34 260.99L679.62 258.70L679.91 257.03L679.94 256.91L680.20 255.87L680.50 255.07L680.54 254.98L680.79 254.51L681.08 254.13L681.14 254.07L681.38 253.86L681.45 253.81L681.67 253.83L681.74 253.85L681.96 254.00L682.06 254.08L682.26 254.27L682.34 254.36L682.55 254.61L682.67 254.77L682.84 255.00L682.94 255.14L683.14 255.44L683.28 255.67L683.43 255.91L683.72 256.40L683.89 256.70L684.02 256.93L684.31 257.47L684.51 257.84L684.60 258.03L684.90 258.61L685.12 259.06L685.19 259.21L685.48 259.82L685.73 260.34L685.78 260.45L686.07 261.09L686.34 261.68L686.36 261.74L686.66 262.40L686.95 263.08L687.30 118.62L687.59 119.92L687.89 120.90L688.05 121.33L688.18 121.63L688.47 122.17L688.77 122.57L688.80 122.61L689.06 122.88L689.35 123.10L689.55 123.22L689.65 123.27L689.94 123.39L690.23 123.49L690.30 123.50L690.53 123.56L690.82 123.61L690.91 123.62L691.05 123.60L691.11 123.57L691.41 123.27L691.42 123.25L691.70 122.76L691.80 122.54L691.93 122.21L691.99 122.06L692.29 121.18L692.45 120.62L692.55 120.24L692.58 120.12L692.87 118.91L692.96 118.53L693.17 117.53L693.46 116.01L693.47 115.96L693.75 114.33L693.98 112.94L694.05 112.51L694.34 110.55L694.49 109.48L694.63 108.44L694.93 106.20L695.00 105.60L695.22 103.83L695.51 101.32L695.86 283.64L696.16 279.48L696.45 276.60L696.46 276.49L696.74 274.60L697.04 273.22L697.06 273.11L697.33 272.26L697.62 271.59L697.66 271.52L697.92 271.13L698.21 270.81L698.26 270.76L698.50 270.59L698.58 270.54L698.80 270.71L698.86 270.80L699.09 271.16L699.19 271.35L699.38 271.76L699.46 271.94L699.68 272.45L699.80 272.77L699.97 273.23L700.06 273.49L700.26 274.07L700.41 274.50L700.56 274.96L700.85 275.90L701.02 276.46L701.14 276.88L701.44 277.89L701.63 278.59L701.73 278.94L702.02 280.03L702.24 280.86L702.32 281.14L702.61 282.27L702.85 283.24L702.90 283.44L703.20 284.62L703.46 285.73L703.49 285.83L703.78 287.07L704.08 288.32L704.38 91.03L705.28 95.71L706.58 95.71L708.08 85.42L712.64 51.30" stroke="#ff8000" stroke-width="4.0" fill="none" stroke-linejoin="round" stroke-linecap="round"/><path d="M712.64 52.70V333.20" stroke="#ff8000" stroke-width="3.6"/><path d="M721.20 52.70V333.20" stroke="#ff8000" stroke-width="3.0"/><path d="M727.90 52.70V333.20" stroke="#ff8000" stroke-width="1.8"/><path d="M731.60 52.70V333.20" stroke="#ff8000" stroke-width="2.2"/><rect x="733.60" y="51.90" width="32.40" height="282.10" fill="#ff8000"/></g><g clip-path="url(#cp1)"><path d="M156.90 473.45L156.90 454.75L157.60 462.23L170.00 462.23L185.00 461.76L198.30 461.30L198.80 485.14L210.00 485.14L230.00 484.67L241.40 484.20L241.80 414.54L243.50 391.64L245.50 368.26L247.50 350.96L249.20 344.42L250.00 346.29L250.61 600.14L250.91 576.81L251.01 571.04L251.20 563.34L251.41 557.29L251.49 555.57L251.79 551.09L251.81 550.79L252.08 548.51L252.21 547.72L252.37 547.01L252.61 546.27L252.67 546.15L252.82 545.85L252.96 545.69L253.01 545.65L253.25 545.59L253.41 545.64L253.49 545.69L253.55 545.72L253.84 546.00L254.13 546.40L254.16 546.44L254.43 546.88L254.72 547.44L254.82 547.66L255.01 548.06L255.31 548.74L255.49 549.20L255.60 549.47L255.89 550.25L256.16 551.00L256.19 551.08L256.48 551.95L256.77 552.87L256.82 553.04L257.07 553.83L257.36 554.83L257.49 555.30L257.65 555.87L257.95 556.95L258.16 557.76L258.24 558.06L258.53 559.22L258.82 560.41M259.00 473.45L259.18 387.43L259.47 392.88L259.76 396.66L259.78 396.80L260.05 399.28L260.35 401.10L260.38 401.23L260.64 402.35L260.93 403.23L260.98 403.32L261.23 403.83L261.52 404.25L261.57 404.31L261.79 404.52L261.81 403.70L262.11 399.38L262.18 398.60L262.40 396.15L262.41 396.07L262.69 393.28L262.78 392.53L262.99 390.61L263.03 390.22L263.28 388.09L263.38 387.30L263.57 385.67L263.65 385.03L263.87 383.34L264.16 381.09L264.28 380.23L264.45 378.91L264.75 376.78L264.90 375.70L265.04 374.69L265.33 372.66L265.52 371.39L265.63 370.66L265.92 368.71L266.14 367.25L266.21 366.78L266.51 364.89L266.77 363.25L266.80 363.03L267.09 361.19L267.39 359.38L267.74 581.44L268.03 564.24L268.14 559.98L268.32 554.31L268.54 549.85L268.62 548.58L268.91 545.28L268.94 545.06L269.20 543.37L269.34 542.79L269.50 542.27L269.74 541.73L269.79 541.64L269.95 541.41L270.08 541.33L270.14 541.32L270.38 541.44L270.54 541.62L270.62 541.73L270.67 541.82L270.96 542.39L271.26 543.11L271.28 543.18L271.55 543.96L271.84 544.93L271.95 545.30L272.14 545.99L272.43 547.15L272.62 547.93L272.72 548.39L273.02 549.72L273.28 550.99L273.31 551.13L273.60 552.61L273.90 554.17L273.95 554.45L274.19 555.79L274.48 557.49L274.62 558.28L274.78 559.25L275.07 561.08L275.28 562.45L275.36 562.98L275.66 564.93L275.95 566.95M276.13 473.45L276.30 381.82L276.59 388.99L276.89 393.97L276.90 394.15L277.18 397.41L277.47 399.80L277.50 399.98L277.77 401.46L278.06 402.60L278.10 402.73L278.35 403.40L278.65 403.95L278.70 404.03L278.91 404.30L278.94 403.57L279.23 399.73L279.30 399.03L279.53 396.85L279.53 396.78L279.82 394.28L279.90 393.61L280.11 391.89L280.16 391.54L280.41 389.61L280.50 388.91L280.70 387.43L280.78 386.86L280.99 385.33L281.29 383.29L281.40 382.51L281.58 381.31L281.87 379.38L282.02 378.40L282.17 377.49L282.46 375.64L282.65 374.49L282.75 373.83L283.05 372.06L283.27 370.73L283.34 370.31L283.63 368.59L283.89 367.10L283.93 366.90L284.22 365.23L284.51 363.59L284.86 578.17L285.16 562.15L285.26 558.19L285.45 552.91L285.66 548.75L285.74 547.58L286.04 544.50L286.06 544.29L286.33 542.72L286.46 542.19L286.62 541.70L286.86 541.19L286.92 541.11L287.07 540.90L287.21 540.83L287.26 540.83L287.50 540.97L287.66 541.17L287.74 541.29L287.80 541.39L288.09 542.00L288.38 542.76L288.41 542.84L288.68 543.66L288.97 544.68L289.07 545.07L289.26 545.80L289.56 547.02L289.74 547.84L289.85 548.33L290.14 549.73L290.41 551.07L290.44 551.21L290.73 552.78L291.02 554.42L291.07 554.72L291.32 556.13L291.61 557.92L291.74 558.75L291.90 559.78L292.20 561.70L292.41 563.15L292.49 563.70L292.78 565.76L293.07 567.89M293.25 473.45L293.43 380.88L293.72 390.21L294.01 396.68L294.03 396.92L294.30 401.16L294.60 404.26L294.62 404.49L294.89 406.41L295.18 407.90L295.23 408.07L295.48 408.94L295.77 409.65L295.82 409.76L296.04 410.11L296.06 409.55L296.36 406.67L296.43 406.14L296.65 404.50L296.66 404.44L296.94 402.54L297.03 402.03L297.24 400.70L297.28 400.44L297.53 398.95L297.62 398.40L297.82 397.25L297.90 396.80L298.12 395.61L298.41 394.02L298.53 393.41L298.70 392.47L299.00 390.96L299.15 390.19L299.29 389.48L299.58 388.02L299.77 387.12L299.88 386.60L300.17 385.21L300.39 384.16L300.46 383.83L300.76 382.48L301.02 381.31L301.05 381.15L301.34 379.84L301.64 378.55L301.99 561.34L302.28 547.10L302.39 543.58L302.57 538.89L302.79 535.19L302.87 534.15L303.16 531.41L303.19 531.23L303.45 529.83L303.59 529.36L303.75 528.92L303.99 528.47L304.04 528.40L304.20 528.21L304.33 528.16L304.39 528.17L304.63 528.37L304.79 528.61L304.87 528.75L304.92 528.86L305.21 529.55L305.51 530.42L305.53 530.50L305.80 531.43L306.09 532.57L306.20 533.01L306.39 533.83L306.68 535.19L306.87 536.11L306.97 536.66L307.27 538.23L307.53 539.73L307.56 539.88L307.85 541.63L308.15 543.47L308.20 543.81L308.44 545.39L308.73 547.39L308.87 548.32L309.03 549.46L309.32 551.62L309.53 553.24L309.61 553.85L309.91 556.16L310.20 558.54M310.38 473.45L310.55 393.51L310.84 402.26L311.14 408.33L311.15 408.55L311.43 412.53L311.72 415.45L311.75 415.66L312.02 417.46L312.31 418.86L312.35 419.02L312.60 419.83L312.90 420.51L312.95 420.61L313.16 420.94L313.19 420.29L313.48 416.97L313.55 416.37L313.78 414.48L313.78 414.42L314.07 412.24L314.15 411.66L314.36 410.15L314.41 409.84L314.66 408.15L314.75 407.53L314.95 406.23L315.03 405.72L315.24 404.37L315.54 402.57L315.65 401.87L315.83 400.81L316.12 399.10L316.27 398.24L316.42 397.43L316.71 395.79L316.90 394.77L317.00 394.18L317.30 392.61L317.52 391.43L317.59 391.06L317.88 389.53L318.14 388.21L318.18 388.03L318.47 386.55L318.76 385.09L319.11 555.73L319.41 542.48L319.51 539.20L319.70 534.84L319.91 531.40L319.99 530.42L320.29 527.88L320.31 527.71L320.58 526.41L320.71 525.97L320.87 525.56L321.11 525.14L321.17 525.07L321.32 524.90L321.46 524.86L321.51 524.88L321.75 525.08L321.91 525.32L321.99 525.47L322.05 525.57L322.34 526.28L322.63 527.14L322.66 527.23L322.93 528.16L323.22 529.30L323.32 529.74L323.51 530.55L323.81 531.92L323.99 532.84L324.10 533.39L324.39 534.95L324.66 536.46L324.69 536.61L324.98 538.36L325.27 540.19L325.32 540.54L325.57 542.11L325.86 544.11L325.99 545.05L326.15 546.19L326.45 548.35L326.66 549.96L326.74 550.58L327.03 552.88L327.32 555.26M327.51 473.45L327.68 397.71L327.97 404.60L328.26 409.38L328.28 409.56L328.55 412.68L328.85 414.98L328.88 415.15L329.14 416.57L329.43 417.67L329.48 417.79L329.73 418.43L330.02 418.96L330.07 419.04L330.29 419.30L330.31 418.67L330.61 415.42L330.68 414.83L330.90 412.99L330.91 412.92L331.19 410.81L331.28 410.24L331.49 408.77L331.53 408.47L331.78 406.84L331.88 406.23L332.07 404.98L332.15 404.49L332.37 403.18L332.66 401.45L332.78 400.78L332.95 399.76L333.25 398.11L333.40 397.27L333.54 396.50L333.83 394.92L334.02 393.93L334.13 393.37L334.42 391.86L334.64 390.72L334.71 390.37L335.01 388.90L335.27 387.63L335.30 387.45L335.59 386.03L335.89 384.62L336.24 554.79L336.53 542.53L336.64 539.50L336.82 535.46L337.04 532.28L337.12 531.38L337.41 529.02L337.44 528.86L337.70 527.66L337.84 527.25L338.00 526.88L338.24 526.49L338.29 526.43L338.45 526.27L338.58 526.24L338.64 526.27L338.88 526.52L339.04 526.80L339.12 526.97L339.17 527.09L339.46 527.89L339.76 528.87L339.78 528.97L340.05 530.01L340.34 531.29L340.45 531.79L340.64 532.70L340.93 534.23L341.12 535.27L341.22 535.88L341.52 537.63L341.78 539.32L341.81 539.49L342.10 541.45L342.40 543.51L342.45 543.89L342.69 545.66L342.98 547.90L343.12 548.95L343.28 550.23L343.57 552.65L343.78 554.46L343.86 555.15L344.16 557.74L344.45 560.41M344.63 473.45L344.80 392.57L345.09 400.61L345.39 406.18L345.40 406.39L345.68 410.04L345.97 412.71L346.00 412.91L346.27 414.57L346.56 415.85L346.60 415.99L346.85 416.74L347.15 417.36L347.20 417.45L347.41 417.75L347.44 416.99L347.73 413.05L347.80 412.33L348.03 410.10L348.03 410.02L348.32 407.45L348.40 406.76L348.61 404.98L348.66 404.62L348.91 402.63L349.00 401.91L349.20 400.38L349.28 399.79L349.49 398.21L349.79 396.11L349.90 395.30L350.08 394.06L350.37 392.06L350.52 391.06L350.67 390.11L350.96 388.20L351.15 387.01L351.25 386.33L351.55 384.50L351.77 383.13L351.84 382.69L352.13 380.91L352.39 379.38L352.43 379.17L352.72 377.44L353.01 375.74L353.36 561.34L353.66 547.89L353.76 544.57L353.95 540.13L354.16 536.64L354.24 535.66L354.54 533.07L354.56 532.90L354.83 531.58L354.96 531.13L355.12 530.72L355.36 530.30L355.42 530.23L355.57 530.05L355.71 530.02L355.76 530.05L356.00 530.31L356.16 530.60L356.24 530.78L356.30 530.91L356.59 531.75L356.88 532.78L356.91 532.88L357.18 533.98L357.47 535.33L357.57 535.85L357.76 536.81L358.06 538.43L358.24 539.52L358.35 540.16L358.64 542.01L358.91 543.79L358.94 543.97L359.23 546.04L359.52 548.21L359.57 548.61L359.82 550.47L360.11 552.84L360.24 553.94L360.40 555.29L360.70 557.84L360.91 559.75L360.99 560.48L361.28 563.21L361.57 566.02M361.76 473.45L361.93 390.24L362.22 397.41L362.51 402.38L362.53 402.57L362.80 405.83L363.10 408.22L363.12 408.39L363.39 409.87L363.68 411.02L363.73 411.15L363.98 411.81L364.27 412.37L364.32 412.45L364.54 412.72L364.56 411.96L364.86 408.03L364.93 407.32L365.15 405.09L365.16 405.01L365.44 402.46L365.53 401.77L365.74 400.01L365.78 399.65L366.03 397.68L366.12 396.96L366.32 395.45L366.40 394.86L366.62 393.30L366.91 391.22L367.03 390.41L367.20 389.19L367.50 387.21L367.65 386.22L367.79 385.28L368.08 383.40L368.27 382.21L368.38 381.54L368.67 379.73L368.89 378.37L368.96 377.94L369.26 376.18L369.52 374.66L369.55 374.45L369.84 372.75L370.14 371.07L370.49 567.42L370.78 553.77L370.89 550.40L371.07 545.90L371.29 542.36L371.37 541.36L371.66 538.74L371.69 538.56L371.95 537.22L372.09 536.77L372.25 536.35L372.49 535.92L372.54 535.85L372.70 535.67L372.83 535.65L372.89 535.68L373.13 535.98L373.29 536.31L373.37 536.50L373.42 536.65L373.71 537.57L374.01 538.71L374.03 538.83L374.30 540.04L374.59 541.53L374.70 542.10L374.89 543.17L375.18 544.95L375.37 546.15L375.47 546.86L375.77 548.90L376.03 550.86L376.06 551.06L376.35 553.34L376.65 555.73L376.70 556.18L376.94 558.23L377.23 560.84L377.37 562.05L377.53 563.55L377.82 566.35L378.03 568.46L378.11 569.26L378.41 572.27L378.70 575.37M378.88 473.45L379.05 378.55L379.34 386.73L379.64 392.40L379.65 392.61L379.93 396.32L380.22 399.05L380.25 399.25L380.52 400.93L380.81 402.24L380.85 402.39L381.10 403.15L381.40 403.78L381.45 403.87L381.66 404.18L381.69 403.38L381.98 399.21L382.05 398.45L382.28 396.08L382.28 396.00L382.57 393.29L382.65 392.56L382.86 390.68L382.91 390.30L383.16 388.21L383.25 387.44L383.45 385.83L383.53 385.20L383.74 383.54L384.04 381.32L384.15 380.47L384.33 379.16L384.62 377.06L384.77 375.99L384.92 375.00L385.21 372.99L385.40 371.73L385.50 371.01L385.80 369.08L386.02 367.63L386.09 367.17L386.38 365.30L386.64 363.68L386.68 363.46L386.97 361.64L387.26 359.85L387.61 576.77L387.91 562.73L388.01 559.25L388.20 554.63L388.41 550.98L388.49 549.95L388.79 547.25L388.81 547.07L389.08 545.70L389.21 545.23L389.37 544.80L389.61 544.36L389.67 544.28L389.82 544.10L389.96 544.08L390.01 544.11L390.25 544.42L390.41 544.76L390.49 544.96L390.55 545.11L390.84 546.07L391.13 547.25L391.16 547.37L391.43 548.62L391.72 550.16L391.82 550.76L392.01 551.86L392.31 553.70L392.49 554.95L392.60 555.68L392.89 557.80L393.16 559.82L393.19 560.03L393.48 562.39L393.77 564.86L393.82 565.32L394.07 567.45L394.36 570.15L394.49 571.41L394.65 572.95L394.95 575.86L395.16 578.04L395.24 578.87L395.53 581.98L395.82 585.18M395.89 543.58L396.18 367.79L396.47 377.12L396.76 383.59L396.78 383.83L397.05 388.07L397.35 391.17L397.38 391.40L397.64 393.32L397.93 394.81L397.98 394.98L398.23 395.85L398.52 396.56L398.57 396.67L398.79 397.02L398.81 396.17L399.11 391.77L399.18 390.97L399.40 388.47L399.41 388.38L399.69 385.51L399.78 384.74L399.99 382.75L400.03 382.35L400.28 380.13L400.38 379.32L400.57 377.61L400.65 376.95L400.87 375.18L401.16 372.83L401.28 371.92L401.45 370.54L401.75 368.30L401.90 367.17L402.04 366.12L402.33 363.98L402.52 362.65L402.63 361.89L402.92 359.83L403.14 358.30L403.21 357.81L403.51 355.82L403.77 354.10L403.80 353.86L404.09 351.93L404.39 350.03L404.74 588.45L405.03 573.43L405.14 569.71L405.32 564.75L405.54 560.85L405.62 559.75L405.91 556.86L405.94 556.67L406.20 555.20L406.34 554.69L406.50 554.24L406.74 553.76L406.79 553.68L406.95 553.49L407.08 553.46L407.14 553.48L407.38 553.79L407.54 554.13L407.62 554.34L407.67 554.49L407.96 555.46L408.26 556.65L408.28 556.76L408.55 558.03L408.84 559.59L408.95 560.19L409.14 561.30L409.43 563.17L409.62 564.42L409.72 565.17L410.02 567.31L410.28 569.35L410.31 569.57L410.60 571.95L410.90 574.45L410.95 574.92L411.19 577.07L411.48 579.80L411.62 581.07L411.78 582.63L412.07 585.57L412.28 587.77L412.36 588.61L412.66 591.76L412.95 595.00M412.99 566.95L413.30 356.11L413.59 365.15L413.89 371.41L413.90 371.65L414.18 375.76L414.47 378.76L414.50 378.99L414.77 380.85L415.06 382.30L415.10 382.46L415.35 383.30L415.65 383.99L415.70 384.09L415.91 384.44L415.94 383.25L416.23 377.04L416.30 375.91L416.53 372.39L416.53 372.27L416.82 368.25L416.90 367.17L417.11 364.40L417.16 363.84L417.41 360.75L417.50 359.61L417.70 357.25L417.78 356.33L417.99 353.89L418.29 350.63L418.40 349.37L418.58 347.46L418.87 344.38L419.02 342.82L419.17 341.36L419.46 338.41L419.65 336.57L419.75 335.53L420.05 332.69L420.27 331.80L420.34 331.80L420.63 331.80L420.89 331.80L420.93 331.80L421.22 331.80L421.51 331.80L421.86 615.10L422.16 603.99L422.26 598.12L422.45 590.30L422.66 584.14L422.74 582.40L423.04 577.84L423.06 577.54L423.33 575.21L423.46 574.42L423.62 573.69L423.86 572.94L423.92 572.82L424.07 572.51L424.21 572.44L424.26 572.47L424.50 572.84L424.66 573.28L424.74 573.55L424.80 573.74L425.09 575.02L425.38 576.60L425.41 576.75L425.68 578.44L425.97 580.51L426.07 581.32L426.26 582.80L426.56 585.28L426.74 586.96L426.85 587.95L427.14 590.80L427.41 593.53L427.44 593.81L427.73 596.99L428.02 600.33L428.07 600.95L428.32 603.82L428.61 607.45L428.74 609.15L428.90 611.23L429.20 615.10L429.41 615.10L429.49 615.10L429.78 615.10L430.07 615.10L430.38 331.80L431.07 333.20L432.47 350.03L433.57 342.55L434.57 331.80" stroke="#807c00" stroke-width="4.0" fill="none" stroke-linejoin="round" stroke-linecap="round"/><path d="M258.82 560.41L259.00 473.45M275.95 566.95L276.13 473.45M293.07 567.89L293.25 473.45M310.20 558.54L310.38 473.45M327.32 555.26L327.51 473.45M344.45 560.41L344.63 473.45M361.57 566.02L361.76 473.45M378.70 575.37L378.88 473.45M395.82 585.18L395.89 543.58M412.95 595.00L412.99 566.95" stroke="#807c00" stroke-width="1.8" fill="none" stroke-linejoin="round" stroke-linecap="round"/><path d="M438.64 333.20V613.70" stroke="#807c00" stroke-width="2.4"/><path d="M447.20 333.20V613.70" stroke="#807c00" stroke-width="3.0"/><rect x="452.60" y="332.40" width="31.00" height="282.10" fill="#807c00"/></g><g clip-path="url(#cp2)"><path d="M154.60 753.95L156.50 745.54L158.00 744.13L175.00 744.13L190.00 743.20L198.30 742.73L198.80 764.24L215.00 763.77L241.20 763.77L241.50 709.07L244.40 702.53L246.50 683.83L248.50 662.79L249.80 654.84L250.30 655.78L250.61 851.66L250.76 820.82L250.91 806.70L250.91 806.26L251.06 799.38L251.20 796.33L251.21 796.13L251.36 794.59L251.49 793.94L251.51 793.87L251.66 793.53L251.79 793.39L251.82 793.36L252.08 793.75L252.37 794.29L252.60 794.73L252.67 794.85L252.96 795.42L253.25 795.98L253.38 796.23L253.55 796.55L253.84 797.12L254.13 797.69L254.16 797.74L254.43 798.26L254.72 798.82L254.94 799.25L255.01 799.39L255.31 799.96L255.60 800.53L255.71 800.75L255.89 801.10L256.19 801.66L256.48 802.23L256.49 802.26L256.77 802.80L257.07 803.37L257.27 803.76L257.36 803.94L257.65 804.51L257.95 805.07L258.05 805.27L258.24 805.64L258.53 806.21L258.82 806.78M258.82 806.78L259.18 700.66L259.47 701.45L259.57 701.64L259.76 701.90L259.98 702.11L260.05 702.17L260.35 702.32L260.38 702.33L260.64 702.41L260.78 702.43L260.93 702.46L261.18 702.48L261.23 702.49L261.39 702.50L261.52 702.17L261.57 701.99L261.81 701.02L261.98 700.26L262.05 699.86L262.11 699.57L262.40 697.93L262.69 696.14L262.72 695.97L262.99 694.22L263.28 692.19L263.39 691.43L263.57 690.06L263.87 687.85L264.05 686.40L264.16 685.55L264.45 683.18L264.72 680.97L264.75 680.74L265.04 678.24L265.33 675.67L265.39 675.20L265.63 673.05L265.92 670.37L266.05 669.14L266.21 667.65L266.51 664.86L266.72 662.81L266.80 662.04L267.09 659.16L267.39 656.24L267.74 852.59L267.89 820.03L268.03 805.12L268.04 804.65L268.19 797.39L268.32 794.17L268.34 793.95L268.49 792.33L268.62 791.64L268.64 791.57L268.79 791.21L268.91 791.06L268.95 791.03L269.20 791.18L269.50 791.44L269.73 791.66L269.79 791.73L270.08 792.02L270.38 792.31L270.51 792.44L270.67 792.61L270.96 792.90L271.26 793.19L271.28 793.22L271.55 793.49L271.84 793.78L272.06 794.00L272.14 794.08L272.43 794.37L272.72 794.66L272.84 794.78L273.02 794.96L273.31 795.25L273.60 795.54L273.62 795.56L273.90 795.84L274.19 796.13L274.39 796.34L274.48 796.43L274.78 796.72L275.07 797.01L275.17 797.12L275.36 797.31L275.66 797.60L275.95 797.90M275.95 797.90L276.30 710.94L276.59 711.34L276.70 711.43L276.89 711.56L277.10 711.67L277.18 711.70L277.47 711.77L277.50 711.78L277.77 711.82L277.90 711.83L278.06 711.84L278.30 711.85L278.35 711.86L278.51 711.86L278.65 711.52L278.70 711.34L278.94 710.33L279.10 709.54L279.18 709.13L279.23 708.84L279.53 707.15L279.82 705.30L279.85 705.13L280.11 703.32L280.41 701.23L280.51 700.44L280.70 699.03L280.99 696.75L281.18 695.26L281.29 694.39L281.58 691.94L281.85 689.67L281.87 689.43L282.17 686.85L282.46 684.21L282.51 683.73L282.75 681.51L283.05 678.75L283.18 677.48L283.34 675.94L283.63 673.07L283.85 670.96L283.93 670.16L284.22 667.20L284.51 664.19L284.86 844.65L285.01 815.54L285.16 802.21L285.16 801.79L285.31 795.29L285.45 792.42L285.46 792.23L285.61 790.78L285.74 790.16L285.76 790.09L285.91 789.77L286.04 789.64L286.07 789.61L286.33 789.69L286.62 789.85L286.85 790.00L286.92 790.04L287.21 790.24L287.50 790.43L287.63 790.52L287.80 790.63L288.09 790.82L288.38 791.02L288.41 791.04L288.68 791.22L288.97 791.41L289.19 791.56L289.26 791.61L289.56 791.80L289.85 792.00L289.96 792.08L290.14 792.20L290.44 792.39L290.73 792.59L290.74 792.60L291.02 792.78L291.32 792.98L291.52 793.12L291.61 793.18L291.90 793.37L292.20 793.57L292.30 793.64L292.49 793.76L292.78 793.96L293.07 794.16M293.07 794.16L293.43 714.21L293.72 714.21L293.82 714.21L294.01 714.21L294.23 714.21L294.30 714.21L294.60 714.21L294.62 714.21L294.89 714.21L295.03 714.21L295.18 714.21L295.43 714.21L295.48 714.21L295.64 714.21L295.77 713.85L295.82 713.65L296.06 712.59L296.23 711.75L296.30 711.31L296.36 711.00L296.65 709.21L296.94 707.25L296.97 707.07L297.24 705.15L297.53 702.94L297.64 702.11L297.82 700.62L298.12 698.20L298.30 696.62L298.41 695.70L298.70 693.11L298.97 690.70L299.00 690.45L299.29 687.72L299.58 684.92L299.64 684.41L299.88 682.06L300.17 679.14L300.30 677.79L300.46 676.16L300.76 673.13L300.97 670.89L301.05 670.04L301.34 666.91L301.64 663.72L301.99 842.78L302.14 820.57L302.28 810.41L302.29 810.09L302.44 805.13L302.57 802.94L302.59 802.79L302.74 801.69L302.87 801.22L302.89 801.17L303.04 800.92L303.16 800.82L303.20 800.80L303.45 800.80L303.75 800.85L303.98 800.91L304.04 800.93L304.33 801.00L304.63 801.08L304.76 801.12L304.92 801.16L305.21 801.24L305.51 801.32L305.53 801.32L305.80 801.39L306.09 801.47L306.31 801.53L306.39 801.55L306.68 801.63L306.97 801.71L307.09 801.74L307.27 801.79L307.56 801.86L307.85 801.94L307.87 801.95L308.15 802.02L308.44 802.10L308.64 802.15L308.73 802.18L309.03 802.26L309.32 802.33L309.42 802.36L309.61 802.41L309.91 802.49L310.20 802.57M310.20 802.57L310.55 703.93L310.84 704.32L310.95 704.42L311.14 704.55L311.35 704.65L311.43 704.68L311.72 704.76L311.75 704.76L312.02 704.80L312.15 704.82L312.31 704.83L312.55 704.84L312.60 704.84L312.76 704.85L312.90 704.59L312.95 704.45L313.19 703.68L313.35 703.08L313.43 702.76L313.48 702.54L313.78 701.25L314.07 699.83L314.10 699.70L314.36 698.32L314.66 696.72L314.76 696.12L314.95 695.04L315.24 693.30L315.43 692.16L315.54 691.49L315.83 689.62L316.10 687.88L316.12 687.70L316.42 685.73L316.71 683.71L316.76 683.34L317.00 681.64L317.30 679.53L317.43 678.56L317.59 677.38L317.88 675.19L318.10 673.57L318.18 672.96L318.47 670.70L318.76 668.40L319.11 839.04L319.26 818.81L319.41 809.54L319.41 809.25L319.56 804.74L319.70 802.74L319.71 802.61L319.86 801.60L319.99 801.17L320.01 801.13L320.16 800.90L320.29 800.81L320.32 800.79L320.58 800.83L320.87 800.93L321.10 801.01L321.17 801.04L321.46 801.15L321.75 801.27L321.88 801.32L322.05 801.39L322.34 801.51L322.63 801.62L322.66 801.64L322.93 801.74L323.22 801.86L323.44 801.95L323.51 801.98L323.81 802.09L324.10 802.21L324.21 802.26L324.39 802.33L324.69 802.45L324.98 802.56L324.99 802.57L325.27 802.68L325.57 802.80L325.77 802.88L325.86 802.92L326.15 803.03L326.45 803.15L326.55 803.19L326.74 803.27L327.03 803.39L327.32 803.50M327.43 772.65L327.68 702.99L327.97 702.79L328.07 702.75L328.26 702.68L328.48 702.63L328.55 702.61L328.85 702.58L328.88 702.57L329.14 702.55L329.28 702.55L329.43 702.54L329.68 702.54L329.73 702.53L329.89 702.53L330.02 702.22L330.07 702.08L330.31 701.40L330.48 700.93L330.55 700.69L330.61 700.53L330.90 699.62L331.19 698.68L331.22 698.59L331.49 697.72L331.78 696.74L331.89 696.38L332.07 695.75L332.37 694.74L332.55 694.09L332.66 693.72L332.95 692.69L333.22 691.75L333.25 691.65L333.54 690.61L333.83 689.55L333.89 689.36L334.13 688.48L334.42 687.41L334.55 686.92L334.71 686.33L335.01 685.25L335.22 684.45L335.30 684.16L335.59 683.06L335.89 681.96L336.24 825.48L336.39 814.13L336.53 808.93L336.54 808.77L336.69 806.24L336.82 805.12L336.84 805.04L336.99 804.48L337.12 804.24L337.14 804.21L337.29 804.09L337.41 804.03L337.45 804.02L337.70 803.99L338.00 803.98L338.23 803.97L338.29 803.97L338.58 803.97L338.88 803.97L339.01 803.97L339.17 803.97L339.46 803.97L339.76 803.97L339.78 803.97L340.05 803.97L340.34 803.97L340.56 803.97L340.64 803.97L340.93 803.97L341.22 803.97L341.34 803.97L341.52 803.97L341.81 803.97L342.10 803.97L342.12 803.97L342.40 803.97L342.69 803.97L342.89 803.97L342.98 803.97L343.28 803.97L343.57 803.97L343.67 803.97L343.86 803.97L344.16 803.97L344.45 803.97M344.56 772.65L344.80 702.99L345.09 702.79L345.20 702.75L345.39 702.68L345.60 702.63L345.68 702.61L345.97 702.58L346.00 702.57L346.27 702.55L346.40 702.55L346.56 702.54L346.80 702.54L346.85 702.53L347.01 702.53L347.15 702.28L347.20 702.18L347.44 701.73L347.60 701.43L347.68 701.28L347.73 701.18L348.03 700.63L348.32 700.08L348.35 700.03L348.61 699.53L348.91 698.98L349.01 698.79L349.20 698.44L349.49 697.89L349.68 697.54L349.79 697.34L350.08 696.79L350.35 696.29L350.37 696.24L350.67 695.69L350.96 695.14L351.01 695.05L351.25 694.60L351.55 694.05L351.68 693.80L351.84 693.50L352.13 692.95L352.35 692.55L352.43 692.40L352.72 691.85L353.01 691.31L353.36 814.73L353.51 811.02L353.66 809.33L353.66 809.28L353.81 808.45L353.95 808.09L353.96 808.06L354.11 807.88L354.24 807.80L354.26 807.79L354.41 807.75L354.54 807.73L354.57 807.73L354.83 807.72L355.12 807.71L355.35 807.71L355.42 807.71L355.71 807.71L356.00 807.71L356.13 807.71L356.30 807.71L356.59 807.71L356.88 807.71L356.91 807.71L357.18 807.71L357.47 807.71L357.69 807.71L357.76 807.71L358.06 807.71L358.35 807.71L358.46 807.71L358.64 807.71L358.94 807.71L359.23 807.71L359.24 807.71L359.52 807.71L359.82 807.71L360.02 807.71L360.11 807.71L360.40 807.71L360.70 807.71L360.80 807.71L360.99 807.71L361.28 807.71L361.57 807.71M361.69 772.65L361.93 699.25L362.22 699.25L362.32 699.25L362.51 699.25L362.73 699.25L362.80 699.25L363.10 699.25L363.12 699.25L363.39 699.25L363.53 699.25L363.68 699.25L363.93 699.25L363.98 699.25L364.14 699.25L364.27 699.18L364.32 699.15L364.56 699.02L364.73 698.93L364.80 698.89L364.86 698.86L365.15 698.70L365.44 698.54L365.47 698.53L365.74 698.38L366.03 698.22L366.14 698.16L366.32 698.06L366.62 697.90L366.80 697.80L366.91 697.74L367.20 697.58L367.47 697.43L367.50 697.42L367.79 697.26L368.08 697.10L368.14 697.07L368.38 696.94L368.67 696.78L368.80 696.71L368.96 696.62L369.26 696.46L369.47 696.34L369.55 696.30L369.84 696.14L370.14 695.98L370.49 810.05L370.64 810.05L370.78 810.05L370.79 810.05L370.94 810.05L371.07 810.05L371.09 810.05L371.24 810.05L371.37 810.05L371.39 810.05L371.54 810.05L371.66 810.05L371.70 810.05L371.95 810.10L372.25 810.16L372.48 810.21L372.54 810.22L372.83 810.28L373.13 810.34L373.26 810.36L373.42 810.39L373.71 810.45L374.01 810.51L374.03 810.52L374.30 810.57L374.59 810.63L374.81 810.67L374.89 810.69L375.18 810.75L375.47 810.81L375.59 810.83L375.77 810.86L376.06 810.92L376.35 810.98L376.37 810.99L376.65 811.04L376.94 811.10L377.14 811.14L377.23 811.16L377.53 811.22L377.82 811.28L377.92 811.30L378.11 811.33L378.41 811.39L378.70 811.45M378.82 772.65L379.05 696.92L379.34 696.92L379.45 696.92L379.64 696.92L379.85 696.92L379.93 696.92L380.22 696.92L380.25 696.92L380.52 696.92L380.65 696.92L380.81 696.92L381.05 696.92L381.10 696.92L381.26 696.92L381.40 696.85L381.45 696.83L381.69 696.72L381.85 696.64L381.93 696.60L381.98 696.58L382.28 696.44L382.57 696.30L382.60 696.29L382.86 696.17L383.16 696.03L383.26 695.98L383.45 695.89L383.74 695.76L383.93 695.67L384.04 695.62L384.33 695.48L384.60 695.36L384.62 695.34L384.92 695.21L385.21 695.07L385.26 695.05L385.50 694.93L385.80 694.80L385.93 694.73L386.09 694.66L386.38 694.52L386.60 694.42L386.68 694.38L386.97 694.25L387.26 694.11L387.61 810.05L387.76 810.05L387.91 810.05L387.91 810.05L388.06 810.05L388.20 810.05L388.21 810.05L388.36 810.05L388.49 810.05L388.51 810.05L388.66 810.05L388.79 810.05L388.82 810.05L389.08 810.11L389.37 810.23L389.60 810.36L389.67 810.40L389.96 810.60L390.25 810.82L390.38 810.93L390.55 811.08L390.84 811.35L391.13 811.64L391.16 811.67L391.43 811.96L391.72 812.29L391.94 812.54L392.01 812.64L392.31 813.00L392.60 813.38L392.71 813.53L392.89 813.78L393.19 814.19L393.48 814.61L393.49 814.63L393.77 815.05L394.07 815.50L394.27 815.82L394.36 815.96L394.65 816.44L394.95 816.93L395.05 817.10L395.24 817.43L395.53 817.94L395.82 818.47M395.82 818.47L396.18 690.37L396.47 690.37L396.57 690.37L396.76 690.37L396.98 690.37L397.05 690.37L397.35 690.37L397.38 690.37L397.64 690.37L397.78 690.37L397.93 690.37L398.18 690.37L398.23 690.37L398.39 690.37L398.52 690.20L398.57 690.14L398.81 689.84L398.98 689.64L399.05 689.54L399.11 689.47L399.40 689.11L399.69 688.74L399.72 688.71L399.99 688.37L400.28 688.01L400.39 687.88L400.57 687.64L400.87 687.28L401.05 687.05L401.16 686.91L401.45 686.55L401.72 686.21L401.75 686.18L402.04 685.82L402.33 685.45L402.39 685.38L402.63 685.08L402.92 684.72L403.05 684.55L403.21 684.35L403.51 683.99L403.72 683.72L403.80 683.62L404.09 683.26L404.39 682.89L404.74 824.08L404.89 824.08L405.03 824.08L405.04 824.08L405.19 824.08L405.32 824.08L405.34 824.08L405.49 824.08L405.62 824.08L405.64 824.08L405.79 824.08L405.91 824.08L405.95 824.08L406.20 824.15L406.50 824.32L406.73 824.49L406.79 824.54L407.08 824.81L407.38 825.11L407.51 825.25L407.67 825.44L407.96 825.81L408.26 826.20L408.28 826.23L408.55 826.62L408.84 827.06L409.06 827.40L409.14 827.52L409.43 828.01L409.72 828.52L409.84 828.72L410.02 829.04L410.31 829.59L410.60 830.16L410.62 830.18L410.90 830.74L411.19 831.34L411.39 831.77L411.48 831.96L411.78 832.60L412.07 833.25L412.17 833.48L412.36 833.91L412.66 834.60L412.95 835.30M413.02 800.70L413.30 665.12L413.59 665.52L413.70 665.62L413.89 665.75L414.10 665.85L414.18 665.88L414.47 665.96L414.50 665.96L414.77 666.00L414.90 666.01L415.06 666.03L415.30 666.04L415.35 666.04L415.51 666.05L415.65 665.75L415.70 665.63L415.94 665.09L416.10 664.73L416.18 664.55L416.23 664.43L416.53 663.77L416.82 663.11L416.85 663.05L417.11 662.44L417.41 661.78L417.51 661.54L417.70 661.12L417.99 660.46L418.18 660.03L418.29 659.79L418.58 659.13L418.85 658.53L418.87 658.47L419.17 657.80L419.46 657.14L419.51 657.02L419.75 656.48L420.05 655.82L420.18 655.52L420.34 655.15L420.63 654.49L420.85 654.01L420.93 653.83L421.22 653.17L421.51 652.50L421.86 847.45L422.01 847.45L422.16 847.45L422.16 847.45L422.31 847.45L422.45 847.45L422.46 847.45L422.57 847.45L422.61 847.45L422.74 847.46L422.76 847.46L422.91 847.50L423.04 847.54L423.33 847.68L423.41 847.73L423.62 847.90L423.92 848.18L424.21 848.54L424.24 848.58L424.50 848.96L424.80 849.46L425.07 850.00L425.09 850.02L425.38 850.66L425.68 851.36L425.91 851.97L425.97 852.14L426.26 852.99L426.56 853.90L426.74 854.52L426.85 854.89L427.14 855.94L427.44 857.07L427.57 857.63L427.73 858.27L428.02 859.53L428.32 860.87L428.41 861.31L428.61 862.27L428.90 863.75L429.20 865.30L429.24 865.55L429.49 866.91L429.78 868.60L430.07 870.36M430.07 870.36L430.43 633.80L430.72 634.00L430.82 634.05L431.01 634.11L431.23 634.17L431.30 634.18L431.60 634.22L431.62 634.22L431.89 634.24L432.03 634.25L432.18 634.25L432.43 634.26L432.48 634.26L432.64 634.26L432.77 634.01L432.82 633.91L433.06 633.47L433.23 633.17L433.30 633.02L433.36 632.92L433.65 632.37L433.94 631.83L433.97 631.78L434.24 631.28L434.53 630.73L434.64 630.53L434.82 630.18L435.12 629.63L435.30 629.28L435.41 629.08L435.70 628.53L435.97 628.04L436.00 627.99L436.29 627.44L436.58 626.89L436.64 626.79L436.88 626.34L437.17 625.79L437.30 625.54L437.46 625.24L437.76 624.70L437.97 624.30L438.05 624.15L438.34 623.60L438.64 623.05L438.99 895.60L439.14 895.60L439.28 895.60L439.29 895.60L439.44 895.60L439.57 895.60L439.59 895.60L439.74 895.60L439.87 895.60L439.89 895.60L440.04 895.60L440.16 895.60L440.20 895.60L440.45 895.60L440.75 895.60L440.98 895.60L441.04 895.60L441.33 895.60L441.63 895.60L441.76 895.60L441.92 895.60L442.21 895.60L442.51 895.60L442.53 895.60L442.80 895.60L443.09 895.60L443.31 895.60L443.39 895.60L443.68 895.60L443.97 895.60L444.09 895.60L444.27 895.60L444.56 895.60L444.85 895.60L444.87 895.60L445.15 895.60L445.44 895.60L445.64 895.60L445.73 895.60L446.03 895.60L446.32 895.60L446.42 895.60L446.61 895.60L446.91 895.60L447.20 895.60" stroke="#f80080" stroke-width="4.0" fill="none" stroke-linejoin="round" stroke-linecap="round"/><path d="M258.82 806.78L258.82 806.78M275.95 797.90L275.95 797.90M293.07 794.16L293.07 794.16M310.20 802.57L310.20 802.57M327.32 803.50L327.43 772.65M344.45 803.97L344.56 772.65M361.57 807.71L361.69 772.65M378.70 811.45L378.82 772.65M395.82 818.47L395.82 818.47M412.95 835.30L413.02 800.70M430.07 870.36L430.07 870.36" stroke="#f80080" stroke-width="1.8" fill="none" stroke-linejoin="round" stroke-linecap="round"/><path d="M447.20 613.70V894.20" stroke="#f80080" stroke-width="2.8"/><path d="M455.76 613.70V894.20" stroke="#f80080" stroke-width="2.8"/><path d="M464.32 613.70V894.20" stroke="#f80080" stroke-width="2.8"/><rect x="473.90" y="612.90" width="13.30" height="282.10" fill="#f80080"/></g><g clip-path="url(#cp3)"><path d="M154.60 1032.11L155.60 1029.31L170.00 1029.31L185.00 1028.84L199.20 1028.37L199.60 1039.59L215.00 1039.59L241.20 1039.59L241.50 1012.48L243.50 1012.01L245.20 1012.95L247.50 1004.06L250.30 992.38L250.80 993.31L250.61 1075.59L250.81 1063.01L250.91 1059.68L251.01 1057.07L251.20 1054.39L251.21 1054.26L251.41 1052.93L251.49 1052.63L251.61 1052.31L251.79 1052.04L251.81 1052.01L252.01 1051.87L252.08 1051.84L252.37 1051.78L252.67 1051.76L252.96 1051.75L253.25 1051.75L253.55 1051.75L253.82 1051.75L253.84 1051.75L254.13 1051.96L254.38 1052.29L254.43 1052.36L254.72 1052.91L254.94 1053.39L255.01 1053.57L255.31 1054.35L255.49 1054.89L255.60 1055.22L255.89 1056.18L256.05 1056.73L256.19 1057.23L256.48 1058.36L256.60 1058.87L256.77 1059.57L257.07 1060.86L257.16 1061.28L257.36 1062.21L257.65 1063.63L257.71 1063.94L257.95 1065.12L258.24 1066.68L258.27 1066.85L258.53 1068.30L258.82 1069.98L259.18 1002.19L259.35 1011.07L259.47 1014.23L259.53 1015.27L259.70 1017.25L259.76 1017.66L259.88 1018.18L260.05 1018.63L260.05 1018.63L260.23 1018.84L260.35 1018.91L260.40 1018.93L260.64 1018.99L260.93 1019.01L261.23 1019.02L261.52 1019.02L261.81 1019.02L262.11 1019.02L262.40 1019.02L262.69 1019.02L262.99 1019.02L263.28 1019.02L263.57 1019.02L263.87 1019.02L264.16 1019.02L264.45 1019.02L264.75 1019.02L265.04 1019.02L265.33 1019.02L265.63 1019.02L265.92 1019.02L266.19 1019.02L266.21 1018.94L266.32 1018.14L266.45 1016.52L266.51 1015.74L266.59 1014.43L266.72 1011.96L266.80 1010.31L266.85 1009.15L266.99 1006.04L267.09 1003.36L267.12 1002.67L267.25 999.04L267.39 995.18L267.74 1072.32L267.94 1060.72L268.03 1057.66L268.14 1055.25L268.32 1052.78L268.34 1052.66L268.54 1051.44L268.62 1051.16L268.74 1050.86L268.91 1050.61L268.94 1050.59L269.14 1050.46L269.20 1050.43L269.50 1050.37L269.79 1050.35L270.08 1050.35L270.38 1050.35L270.67 1050.35L270.95 1050.35L270.96 1050.35L271.26 1050.62L271.51 1051.05L271.55 1051.15L271.84 1051.86L272.06 1052.49L272.14 1052.73L272.43 1053.75L272.62 1054.46L272.72 1054.89L273.02 1056.15L273.17 1056.86L273.31 1057.52L273.60 1059.00L273.73 1059.65L273.90 1060.58L274.19 1062.25L274.28 1062.81L274.48 1064.03L274.78 1065.89L274.84 1066.29L275.07 1067.84L275.36 1069.87L275.39 1070.09L275.66 1071.99L275.95 1074.19L276.30 997.99L276.48 1008.35L276.59 1012.03L276.65 1013.24L276.82 1015.55L276.89 1016.03L277.00 1016.64L277.18 1017.16L277.18 1017.17L277.35 1017.40L277.47 1017.49L277.53 1017.52L277.77 1017.58L278.06 1017.61L278.35 1017.62L278.65 1017.62L278.94 1017.62L279.23 1017.62L279.53 1017.62L279.82 1017.62L280.11 1017.62L280.41 1017.62L280.70 1017.62L280.99 1017.62L281.29 1017.62L281.58 1017.62L281.87 1017.62L282.17 1017.62L282.46 1017.62L282.75 1017.62L283.05 1017.62L283.31 1017.62L283.34 1017.55L283.45 1016.82L283.58 1015.37L283.63 1014.66L283.71 1013.48L283.85 1011.25L283.93 1009.76L283.98 1008.72L284.11 1005.91L284.22 1003.50L284.25 1002.87L284.38 999.60L284.51 996.12L284.86 1069.98L285.06 1059.62L285.16 1056.88L285.26 1054.73L285.45 1052.52L285.46 1052.41L285.66 1051.32L285.74 1051.07L285.86 1050.81L286.04 1050.59L286.06 1050.56L286.26 1050.45L286.33 1050.43L286.62 1050.37L286.92 1050.35L287.21 1050.35L287.50 1050.35L287.80 1050.35L288.07 1050.35L288.09 1050.35L288.38 1050.62L288.63 1051.05L288.68 1051.15L288.97 1051.86L289.19 1052.49L289.26 1052.73L289.56 1053.75L289.74 1054.46L289.85 1054.89L290.14 1056.15L290.30 1056.86L290.44 1057.52L290.73 1059.00L290.85 1059.65L291.02 1060.58L291.32 1062.25L291.41 1062.81L291.61 1064.03L291.90 1065.89L291.96 1066.29L292.20 1067.84L292.49 1069.87L292.52 1070.09L292.78 1071.99L293.07 1074.19L293.43 995.18L293.60 1007.02L293.72 1011.24L293.78 1012.61L293.95 1015.25L294.01 1015.80L294.12 1016.50L294.30 1017.09L294.30 1017.10L294.48 1017.37L294.60 1017.47L294.65 1017.50L294.89 1017.58L295.18 1017.61L295.48 1017.62L295.77 1017.62L296.06 1017.62L296.36 1017.62L296.65 1017.62L296.94 1017.62L297.24 1017.62L297.53 1017.62L297.82 1017.62L298.12 1017.62L298.41 1017.62L298.70 1017.62L299.00 1017.62L299.29 1017.62L299.58 1017.62L299.88 1017.62L300.17 1017.62L300.44 1017.62L300.46 1017.55L300.57 1016.89L300.70 1015.56L300.76 1014.92L300.84 1013.84L300.97 1011.80L301.05 1010.44L301.10 1009.49L301.24 1006.93L301.34 1004.72L301.37 1004.15L301.50 1001.16L301.64 997.99L301.99 1076.53L302.19 1062.96L302.28 1059.37L302.39 1056.55L302.57 1053.66L302.59 1053.52L302.79 1052.09L302.87 1051.76L302.99 1051.42L303.16 1051.13L303.19 1051.10L303.39 1050.95L303.45 1050.92L303.75 1050.85L304.04 1050.82L304.33 1050.82L304.63 1050.81L304.92 1050.81L305.20 1050.81L305.21 1050.81L305.51 1051.08L305.76 1051.51L305.80 1051.60L306.09 1052.30L306.31 1052.92L306.39 1053.15L306.68 1054.15L306.87 1054.84L306.97 1055.26L307.27 1056.50L307.42 1057.20L307.56 1057.85L307.85 1059.30L307.98 1059.94L308.15 1060.84L308.44 1062.49L308.53 1063.03L308.73 1064.23L309.03 1066.05L309.09 1066.45L309.32 1067.96L309.61 1069.96L309.64 1070.17L309.91 1072.03L310.20 1074.19L310.55 996.58L310.73 1007.68L310.84 1011.63L310.90 1012.93L311.07 1015.40L311.14 1015.92L311.25 1016.57L311.43 1017.13L311.43 1017.14L311.60 1017.39L311.72 1017.48L311.78 1017.51L312.02 1017.58L312.31 1017.61L312.60 1017.62L312.90 1017.62L313.19 1017.62L313.48 1017.62L313.78 1017.62L314.07 1017.62L314.36 1017.62L314.66 1017.62L314.95 1017.62L315.24 1017.62L315.54 1017.62L315.83 1017.62L316.12 1017.62L316.42 1017.62L316.71 1017.62L317.00 1017.62L317.30 1017.62L317.56 1017.62L317.59 1017.55L317.70 1016.84L317.83 1015.42L317.88 1014.72L317.96 1013.57L318.10 1011.39L318.18 1009.93L318.23 1008.91L318.36 1006.17L318.47 1003.80L318.50 1003.19L318.63 999.99L318.76 996.58L319.11 1070.45L319.31 1060.58L319.41 1057.97L319.51 1055.92L319.70 1053.82L319.71 1053.72L319.91 1052.68L319.99 1052.44L320.11 1052.19L320.29 1051.98L320.31 1051.96L320.51 1051.85L320.58 1051.82L320.87 1051.77L321.17 1051.76L321.46 1051.75L321.75 1051.75L322.05 1051.75L322.32 1051.75L322.34 1051.75L322.63 1052.02L322.88 1052.46L322.93 1052.55L323.22 1053.26L323.44 1053.90L323.51 1054.14L323.81 1055.15L323.99 1055.86L324.10 1056.29L324.39 1057.55L324.55 1058.26L324.69 1058.92L324.98 1060.40L325.10 1061.06L325.27 1061.98L325.57 1063.66L325.66 1064.21L325.86 1065.43L326.15 1067.29L326.21 1067.70L326.45 1069.24L326.74 1071.27L326.77 1071.49L327.03 1073.39L327.32 1075.59L327.68 994.25L327.85 1006.09L327.97 1010.30L328.03 1011.68L328.20 1014.32L328.26 1014.87L328.38 1015.57L328.55 1016.16L328.55 1016.17L328.73 1016.44L328.85 1016.54L328.90 1016.57L329.14 1016.64L329.43 1016.67L329.73 1016.68L330.02 1016.68L330.31 1016.68L330.61 1016.68L330.90 1016.68L331.19 1016.68L331.49 1016.68L331.78 1016.68L332.07 1016.68L332.37 1016.68L332.66 1016.68L332.95 1016.68L333.25 1016.68L333.54 1016.68L333.83 1016.68L334.13 1016.68L334.42 1016.68L334.69 1016.68L334.71 1016.61L334.82 1015.84L334.95 1014.29L335.01 1013.53L335.09 1012.28L335.22 1009.90L335.30 1008.31L335.35 1007.20L335.49 1004.22L335.59 1001.64L335.62 1000.97L335.75 997.49L335.89 993.78L336.24 1071.85L336.44 1061.98L336.53 1059.38L336.64 1057.32L336.82 1055.22L336.84 1055.12L337.04 1054.08L337.12 1053.84L337.24 1053.59L337.41 1053.38L337.44 1053.36L337.64 1053.25L337.70 1053.23L338.00 1053.18L338.29 1053.16L338.58 1053.15L338.88 1053.15L339.17 1053.15L339.45 1053.15L339.46 1053.15L339.76 1053.45L340.01 1053.91L340.05 1054.02L340.34 1054.79L340.56 1055.47L340.64 1055.73L340.93 1056.82L341.12 1057.58L341.22 1058.05L341.52 1059.41L341.67 1060.18L341.81 1060.89L342.10 1062.48L342.23 1063.19L342.40 1064.18L342.69 1065.99L342.78 1066.59L342.98 1067.90L343.28 1069.91L343.34 1070.35L343.57 1072.01L343.86 1074.21L343.89 1074.45L344.16 1076.49L344.45 1078.86L344.80 990.50L344.98 1002.35L345.09 1006.56L345.15 1007.94L345.32 1010.58L345.39 1011.13L345.50 1011.83L345.68 1012.42L345.68 1012.43L345.85 1012.70L345.97 1012.80L346.03 1012.83L346.27 1012.90L346.56 1012.93L346.85 1012.94L347.15 1012.94L347.44 1012.94L347.73 1012.94L348.03 1012.94L348.32 1012.94L348.61 1012.94L348.91 1012.94L349.20 1012.94L349.49 1012.94L349.79 1012.94L350.08 1012.94L350.37 1012.94L350.67 1012.94L350.96 1012.94L351.01 1012.94L351.23 1012.08L351.25 1011.97L351.46 1010.50L351.55 1009.72L351.68 1008.45L351.84 1006.73L351.90 1006.02L352.12 1003.27L352.13 1003.15L352.35 1000.22L352.43 999.06L352.57 996.91L352.72 994.52L352.79 993.36L353.01 989.57L353.36 1076.53L353.56 1066.66L353.66 1064.05L353.76 1062.00L353.95 1059.90L353.96 1059.80L354.16 1058.76L354.24 1058.51L354.36 1058.26L354.54 1058.05L354.56 1058.03L354.76 1057.92L354.83 1057.90L355.12 1057.85L355.42 1057.83L355.71 1057.83L356.00 1057.83L356.30 1057.83L356.57 1057.83L356.59 1057.83L356.88 1058.09L357.13 1058.52L357.18 1058.61L357.47 1059.31L357.69 1059.93L357.76 1060.17L358.06 1061.16L358.24 1061.86L358.35 1062.28L358.64 1063.51L358.80 1064.21L358.94 1064.86L359.23 1066.31L359.35 1066.95L359.52 1067.86L359.82 1069.50L359.91 1070.04L360.11 1071.24L360.40 1073.06L360.46 1073.46L360.70 1074.97L360.99 1076.97L361.02 1077.19L361.28 1079.05L361.57 1081.20L361.93 983.03L362.10 996.10L362.22 1000.75L362.28 1002.27L362.45 1005.19L362.51 1005.80L362.62 1006.57L362.80 1007.22L362.80 1007.23L362.98 1007.53L363.10 1007.64L363.15 1007.67L363.39 1007.76L363.68 1007.79L363.98 1007.80L364.27 1007.80L364.56 1007.80L364.86 1007.80L365.15 1007.80L365.44 1007.80L365.74 1007.80L366.03 1007.80L366.32 1007.80L366.62 1007.80L366.91 1007.80L367.20 1007.80L367.50 1007.80L367.64 1007.80L367.79 1007.38L367.92 1006.76L368.08 1005.68L368.19 1004.86L368.38 1003.28L368.47 1002.40L368.67 1000.35L368.75 999.49L368.96 996.96L369.03 996.19L369.26 993.17L369.30 992.53L369.55 989.02L369.58 988.56L369.84 984.54L369.86 984.30L370.14 979.75L370.49 1085.41L370.69 1074.31L370.78 1071.37L370.89 1069.06L371.07 1066.70L371.09 1066.59L371.29 1065.42L371.37 1065.15L371.49 1064.86L371.66 1064.63L371.69 1064.60L371.89 1064.48L371.95 1064.46L372.25 1064.40L372.54 1064.38L372.83 1064.37L373.13 1064.37L373.42 1064.37L373.70 1064.37L373.71 1064.37L374.01 1064.81L374.26 1065.51L374.30 1065.66L374.59 1066.81L374.81 1067.83L374.89 1068.21L375.18 1069.84L375.37 1070.98L375.47 1071.67L375.77 1073.70L375.92 1074.84L376.06 1075.90L376.35 1078.28L376.48 1079.34L376.65 1080.82L376.94 1083.52L377.03 1084.41L377.23 1086.37L377.53 1089.36L377.59 1090.01L377.82 1092.50L378.11 1095.77L378.14 1096.12L378.41 1099.17L378.70 1102.71L379.05 972.27L379.23 986.09L379.34 991.00L379.40 992.61L379.57 995.69L379.64 996.33L379.75 997.15L379.93 997.84L379.93 997.85L380.10 998.16L380.22 998.28L380.28 998.32L380.52 998.40L380.81 998.44L381.10 998.45L381.40 998.45L381.69 998.45L381.98 998.45L382.28 998.45L382.57 998.45L382.86 998.45L383.16 998.45L383.45 998.45L383.74 998.45L384.04 998.45L384.26 998.45L384.33 998.34L384.60 997.21L384.62 997.05L384.92 995.03L384.93 994.93L385.21 992.48L385.26 991.97L385.50 989.51L385.60 988.48L385.80 986.15L385.93 984.51L386.09 982.46L386.26 980.13L386.38 978.46L386.60 975.36L386.68 974.17L386.93 970.24L386.97 969.61L387.26 964.79L387.61 1099.43L387.81 1084.88L387.91 1081.03L388.01 1078.00L388.20 1074.91L388.21 1074.76L388.41 1073.22L388.49 1072.87L388.61 1072.50L388.79 1072.19L388.81 1072.16L389.01 1071.99L389.08 1071.96L389.37 1071.89L389.67 1071.86L389.96 1071.85L390.25 1071.85L390.55 1071.85L390.82 1071.85L390.84 1071.85L391.13 1072.44L391.38 1073.38L391.43 1073.58L391.72 1075.12L391.94 1076.48L392.01 1077.00L392.31 1079.19L392.49 1080.72L392.60 1081.65L392.89 1084.36L393.05 1085.90L393.19 1087.32L393.48 1090.51L393.60 1091.93L393.77 1093.92L394.07 1097.54L394.16 1098.73L394.36 1101.36L394.65 1105.37L394.71 1106.25L394.95 1109.58L395.24 1113.97L395.27 1114.44L395.53 1118.53L395.82 1123.28L396.18 954.98L396.35 971.01L396.47 976.72L396.53 978.58L396.70 982.16L396.76 982.90L396.88 983.85L397.05 984.65L397.05 984.66L397.23 985.02L397.35 985.16L397.40 985.20L397.64 985.31L397.93 985.35L398.23 985.36L398.52 985.36L398.81 985.36L399.11 985.36L399.40 985.36L399.69 985.36L399.99 985.36L400.28 985.36L400.57 985.36L400.87 985.36L401.16 985.36L401.39 985.36L401.45 985.23L401.72 983.91L401.75 983.73L402.04 981.37L402.05 981.25L402.33 978.40L402.39 977.80L402.63 974.92L402.72 973.73L402.92 971.01L403.05 969.10L403.21 966.70L403.39 963.99L403.51 962.03L403.72 958.43L403.80 957.03L404.05 952.45L404.09 951.71L404.39 946.09L404.74 1111.59L404.94 1100.98L405.03 1098.18L405.14 1095.97L405.32 1093.71L405.34 1093.60L405.54 1092.49L405.62 1092.23L405.74 1091.96L405.91 1091.73L405.94 1091.71L406.14 1091.59L406.20 1091.57L406.50 1091.51L406.79 1091.49L407.08 1091.49L407.38 1091.49L407.67 1091.49L407.95 1091.49L407.96 1091.49L408.26 1092.11L408.51 1093.10L408.55 1093.31L408.84 1094.94L409.06 1096.37L409.14 1096.92L409.43 1099.22L409.62 1100.84L409.72 1101.81L410.02 1104.68L410.17 1106.30L410.31 1107.80L410.60 1111.16L410.73 1112.66L410.90 1114.76L411.19 1118.57L411.28 1119.83L411.48 1122.60L411.78 1126.84L411.84 1127.76L412.07 1131.27L412.36 1135.90L412.39 1136.40L412.66 1140.72L412.95 1145.72L413.30 938.61L413.48 952.67L413.59 957.68L413.65 959.31L413.82 962.45L413.89 963.10L414.00 963.93L414.18 964.63L414.18 964.65L414.35 964.96L414.47 965.09L414.53 965.12L414.77 965.21L415.06 965.25L415.35 965.26L415.65 965.26L415.94 965.26L416.23 965.26L416.53 965.26L416.82 965.26L417.11 965.26L417.41 965.26L417.70 965.26L417.99 965.26L418.29 965.26L418.51 965.26L418.58 965.11L418.85 963.63L418.87 963.43L419.17 960.79L419.18 960.66L419.46 957.47L419.51 956.80L419.75 953.58L419.85 952.24L420.05 949.20L420.18 947.06L420.34 944.38L420.51 941.34L420.63 939.15L420.85 935.12L420.93 933.55L421.18 928.43L421.22 927.60L421.51 921.32L421.86 1176.10L422.06 1168.99L422.16 1163.78L422.26 1159.67L422.45 1155.47L422.46 1155.27L422.66 1153.19L422.74 1152.70L422.86 1152.20L423.04 1151.78L423.06 1151.74L423.26 1151.52L423.33 1151.48L423.62 1151.38L423.92 1151.34L424.21 1151.33L424.50 1151.33L424.80 1151.33L425.07 1151.33L425.09 1151.33L425.38 1151.76L425.63 1152.44L425.68 1152.58L425.97 1153.70L426.19 1154.70L426.26 1155.07L426.56 1156.66L426.74 1157.77L426.85 1158.45L427.14 1160.43L427.30 1161.54L427.44 1162.58L427.73 1164.90L427.85 1165.93L428.02 1167.38L428.32 1170.01L428.41 1170.87L428.61 1172.79L428.90 1175.71L428.96 1176.10L429.20 1176.10L429.49 1176.10L429.52 1176.10L429.78 1176.10L430.07 1176.10" stroke="#000" stroke-width="4.0" fill="none" stroke-linejoin="round" stroke-linecap="round"/><path d="M430.30 894.20V1174.70" stroke="#000" stroke-width="3.4"/><path d="M440.10 894.20V1174.70" stroke="#000" stroke-width="1.5"/><path d="M446.60 894.20V1174.70" stroke="#000" stroke-width="2.6"/><path d="M453.00 894.20V1174.70" stroke="#000" stroke-width="2.4"/><path d="M456.00 894.20V1174.70" stroke="#000" stroke-width="1.4"/><rect x="457.50" y="893.40" width="28.10" height="282.10" fill="#000"/></g>
<g font-family='"Liberation Sans", sans-serif' font-weight="bold" font-size="31.5" fill="#000">
<text transform="translate(154.5 28.7) scale(1 1.05)" text-anchor="middle">0</text><text transform="translate(154.5 1216.6) scale(1 1.05)" text-anchor="middle">0</text><text transform="translate(261.4 28.7) scale(1 1.05)" text-anchor="middle">50</text><text transform="translate(261.4 1216.6) scale(1 1.05)" text-anchor="middle">50</text><text transform="translate(368.4 28.7) scale(1 1.05)" text-anchor="middle">100</text><text transform="translate(368.4 1216.6) scale(1 1.05)" text-anchor="middle">100</text><text transform="translate(475.3 28.7) scale(1 1.05)" text-anchor="middle">150</text><text transform="translate(475.3 1216.6) scale(1 1.05)" text-anchor="middle">150</text><text transform="translate(582.2 28.7) scale(1 1.05)" text-anchor="middle">200</text><text transform="translate(582.2 1216.6) scale(1 1.05)" text-anchor="middle">200</text><text transform="translate(689.1 28.7) scale(1 1.05)" text-anchor="middle">250</text><text transform="translate(689.1 1216.6) scale(1 1.05)" text-anchor="middle">250</text><text transform="translate(796.1 28.7) scale(1 1.05)" text-anchor="middle">300</text><text transform="translate(796.1 1216.6) scale(1 1.05)" text-anchor="middle">300</text><text transform="translate(903.0 28.7) scale(1 1.05)" text-anchor="middle">350</text><text transform="translate(903.0 1216.6) scale(1 1.05)" text-anchor="middle">350</text><text transform="translate(137.5 63.1) scale(1 1.05)" text-anchor="end">0.30</text><text transform="translate(137.5 133.2) scale(1 1.05)" text-anchor="end">0.15</text><text transform="translate(137.5 203.3) scale(1 1.05)" text-anchor="end">0.00</text><text transform="translate(137.5 273.5) scale(1 1.05)" text-anchor="end">-0.15</text><text transform="translate(137.5 343.6) scale(1 1.05)" text-anchor="end">-0.30</text><text transform="translate(137.5 413.7) scale(1 1.05)" text-anchor="end">0.15</text><text transform="translate(137.5 483.8) scale(1 1.05)" text-anchor="end">0.00</text><text transform="translate(137.5 554.0) scale(1 1.05)" text-anchor="end">-0.15</text><text transform="translate(137.5 624.1) scale(1 1.05)" text-anchor="end">-0.30</text><text transform="translate(137.5 694.2) scale(1 1.05)" text-anchor="end">0.15</text><text transform="translate(137.5 764.4) scale(1 1.05)" text-anchor="end">0.00</text><text transform="translate(137.5 834.5) scale(1 1.05)" text-anchor="end">-0.15</text><text transform="translate(137.5 904.6) scale(1 1.05)" text-anchor="end">-0.30</text><text transform="translate(137.5 974.7) scale(1 1.05)" text-anchor="end">0.15</text><text transform="translate(137.5 1044.9) scale(1 1.05)" text-anchor="end">0.00</text><text transform="translate(137.5 1115.0) scale(1 1.05)" text-anchor="end">-0.15</text><text transform="translate(137.5 1185.1) scale(1 1.05)" text-anchor="end">-0.30</text><text transform="translate(549.0 1265.0) scale(1 1.05)" text-anchor="middle" font-size="40">Time/hr</text><text transform="translate(35.2 637.8) rotate(-90) scale(1.03 1)" text-anchor="middle" font-size="40">Voltage/V</text><text x="865.6" y="184.0" font-size="21.5" font-weight="normal" text-anchor="middle">3</text><text x="872.2" y="718.2" font-size="21.5" font-weight="normal" text-anchor="middle">3</text><text transform="translate(773.5 124.8) scale(1.0 1)" font-size="36">LiDFOB</text><text transform="translate(773.5 171.4) scale(1.0 1)" font-size="36">LiNO</text><text transform="translate(773.9 227.6) scale(1.0 1)" font-size="36">TEP:EC</text><text transform="translate(775.8 380.0) scale(1.0 1)" font-size="36">LiDFOB</text><text transform="translate(776.8 425.4) scale(1.0 1)" font-size="36">TEP:EC</text><text transform="translate(783.8 663.2) scale(0.957 1)" font-size="36">LiDFOB</text><text transform="translate(783.6 707.2) scale(0.957 1)" font-size="36">LiNO</text><text transform="translate(783.6 760.4) scale(0.957 1)" font-size="36">EC</text><text transform="translate(793.6 942.8) scale(1.0 1)" font-size="36">LiDFOB</text><text transform="translate(793.6 988.0) scale(1.0 1)" font-size="36">EC</text>
</g>
</svg></body></html>
